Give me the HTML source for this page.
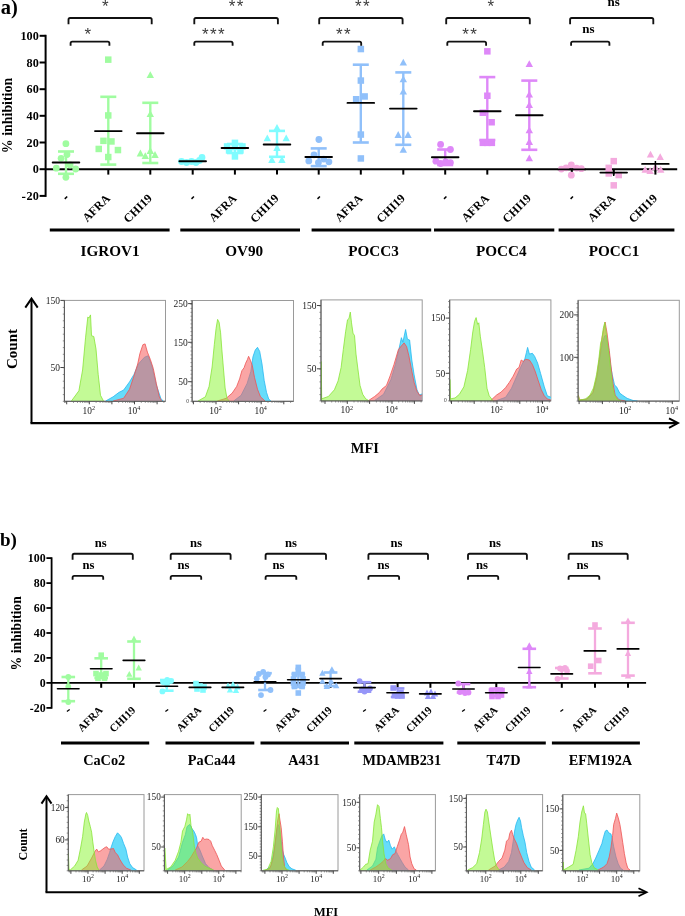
<!DOCTYPE html>
<html><head><meta charset="utf-8"><style>
html,body{margin:0;padding:0;background:#fff;}
body{width:685px;height:916px;overflow:hidden;font-family:"Liberation Serif",serif;}
svg{display:block;will-change:transform;filter:blur(0.35px);}
</style></head><body>
<svg width="685" height="916" viewBox="0 0 685 916"><text x="0.8" y="14" font-family="'Liberation Serif', serif" font-size="20.5" font-weight="bold" text-anchor="start" fill="#000">a)</text>
<line x1="45.6" y1="34.8" x2="45.6" y2="196.9" stroke="#000" stroke-width="2" stroke-linecap="butt"/>
<line x1="39.6" y1="35.8" x2="45.6" y2="35.8" stroke="#000" stroke-width="2" stroke-linecap="butt"/>
<text x="38.8" y="40" font-family="'Liberation Serif', serif" font-size="12.2" font-weight="bold" text-anchor="end" fill="#000">100</text>
<line x1="39.6" y1="62.5" x2="45.6" y2="62.5" stroke="#000" stroke-width="2" stroke-linecap="butt"/>
<text x="38.8" y="66.7" font-family="'Liberation Serif', serif" font-size="12.2" font-weight="bold" text-anchor="end" fill="#000">80</text>
<line x1="39.6" y1="89.2" x2="45.6" y2="89.2" stroke="#000" stroke-width="2" stroke-linecap="butt"/>
<text x="38.8" y="93.4" font-family="'Liberation Serif', serif" font-size="12.2" font-weight="bold" text-anchor="end" fill="#000">60</text>
<line x1="39.6" y1="115.8" x2="45.6" y2="115.8" stroke="#000" stroke-width="2" stroke-linecap="butt"/>
<text x="38.8" y="120" font-family="'Liberation Serif', serif" font-size="12.2" font-weight="bold" text-anchor="end" fill="#000">40</text>
<line x1="39.6" y1="142.5" x2="45.6" y2="142.5" stroke="#000" stroke-width="2" stroke-linecap="butt"/>
<text x="38.8" y="146.7" font-family="'Liberation Serif', serif" font-size="12.2" font-weight="bold" text-anchor="end" fill="#000">20</text>
<line x1="39.6" y1="169.2" x2="45.6" y2="169.2" stroke="#000" stroke-width="2" stroke-linecap="butt"/>
<text x="38.8" y="173.4" font-family="'Liberation Serif', serif" font-size="12.2" font-weight="bold" text-anchor="end" fill="#000">0</text>
<line x1="39.6" y1="195.9" x2="45.6" y2="195.9" stroke="#000" stroke-width="2" stroke-linecap="butt"/>
<text x="38.8" y="200.1" font-family="'Liberation Serif', serif" font-size="12.2" font-weight="bold" text-anchor="end" fill="#000">20</text>
<line x1="22" y1="197.4" x2="25.4" y2="197.4" stroke="#000" stroke-width="1.2" stroke-linecap="butt"/>
<text x="12.4" y="115.5" font-family="'Liberation Serif', serif" font-size="13.9" font-weight="bold" text-anchor="middle" fill="#000" transform="rotate(-90 12.4 115.5)">% inhibition</text>
<line x1="45.6" y1="169.2" x2="677.2" y2="169.2" stroke="#000" stroke-width="2" stroke-linecap="butt"/>
<line x1="66" y1="169.2" x2="66" y2="174.6" stroke="#000" stroke-width="2" stroke-linecap="butt"/>
<line x1="108.3" y1="169.2" x2="108.3" y2="174.6" stroke="#000" stroke-width="2" stroke-linecap="butt"/>
<line x1="150.3" y1="169.2" x2="150.3" y2="174.6" stroke="#000" stroke-width="2" stroke-linecap="butt"/>
<line x1="192.7" y1="169.2" x2="192.7" y2="174.6" stroke="#000" stroke-width="2" stroke-linecap="butt"/>
<line x1="234.9" y1="169.2" x2="234.9" y2="174.6" stroke="#000" stroke-width="2" stroke-linecap="butt"/>
<line x1="277" y1="169.2" x2="277" y2="174.6" stroke="#000" stroke-width="2" stroke-linecap="butt"/>
<line x1="318.7" y1="169.2" x2="318.7" y2="174.6" stroke="#000" stroke-width="2" stroke-linecap="butt"/>
<line x1="360.8" y1="169.2" x2="360.8" y2="174.6" stroke="#000" stroke-width="2" stroke-linecap="butt"/>
<line x1="403.3" y1="169.2" x2="403.3" y2="174.6" stroke="#000" stroke-width="2" stroke-linecap="butt"/>
<line x1="445.2" y1="169.2" x2="445.2" y2="174.6" stroke="#000" stroke-width="2" stroke-linecap="butt"/>
<line x1="487.3" y1="169.2" x2="487.3" y2="174.6" stroke="#000" stroke-width="2" stroke-linecap="butt"/>
<line x1="529.3" y1="169.2" x2="529.3" y2="174.6" stroke="#000" stroke-width="2" stroke-linecap="butt"/>
<line x1="571.8" y1="169.2" x2="571.8" y2="174.6" stroke="#000" stroke-width="2" stroke-linecap="butt"/>
<line x1="613.7" y1="169.2" x2="613.7" y2="174.6" stroke="#000" stroke-width="2" stroke-linecap="butt"/>
<line x1="655.4" y1="169.2" x2="655.4" y2="174.6" stroke="#000" stroke-width="2" stroke-linecap="butt"/>
<circle cx="65.9" cy="143.7" r="3.4" fill="#a0fca0"/>
<circle cx="61.1" cy="158.3" r="3.4" fill="#a0fca0"/>
<circle cx="67" cy="154.5" r="3.4" fill="#a0fca0"/>
<circle cx="56.3" cy="168.2" r="3.4" fill="#a0fca0"/>
<circle cx="75.7" cy="169" r="3.4" fill="#a0fca0"/>
<circle cx="70.1" cy="165" r="3.4" fill="#a0fca0"/>
<circle cx="65.9" cy="177.3" r="3.4" fill="#a0fca0"/>
<line x1="66" y1="151.5" x2="66" y2="173.8" stroke="#a0fca0" stroke-width="2.4" stroke-linecap="butt"/>
<line x1="58" y1="151.5" x2="74" y2="151.5" stroke="#a0fca0" stroke-width="2.6" stroke-linecap="butt"/>
<line x1="58" y1="173.8" x2="74" y2="173.8" stroke="#a0fca0" stroke-width="2.6" stroke-linecap="butt"/>
<line x1="52.7" y1="162.5" x2="79.3" y2="162.5" stroke="#000" stroke-width="1.9" stroke-linecap="round"/>
<rect x="105" y="56.4" width="6.5" height="6.5" fill="#a0fca0"/>
<rect x="105" y="112.2" width="6.5" height="6.5" fill="#a0fca0"/>
<rect x="100.2" y="137.6" width="6.5" height="6.5" fill="#a0fca0"/>
<rect x="108.2" y="138.2" width="6.5" height="6.5" fill="#a0fca0"/>
<rect x="95.5" y="145.7" width="6.5" height="6.5" fill="#a0fca0"/>
<rect x="114.7" y="146.8" width="6.5" height="6.5" fill="#a0fca0"/>
<rect x="105" y="153.8" width="6.5" height="6.5" fill="#a0fca0"/>
<line x1="108.3" y1="96.8" x2="108.3" y2="164.6" stroke="#a0fca0" stroke-width="2.4" stroke-linecap="butt"/>
<line x1="100.3" y1="96.8" x2="116.3" y2="96.8" stroke="#a0fca0" stroke-width="2.6" stroke-linecap="butt"/>
<line x1="100.3" y1="164.6" x2="116.3" y2="164.6" stroke="#a0fca0" stroke-width="2.6" stroke-linecap="butt"/>
<line x1="95" y1="131.1" x2="121.6" y2="131.1" stroke="#000" stroke-width="1.9" stroke-linecap="round"/>
<path d="M150.3 71.3L154 78.1L146.6 78.1Z" fill="#a0fca0"/>
<path d="M150.3 110.2L154 117L146.6 117Z" fill="#a0fca0"/>
<path d="M140.4 149.6L144.1 156.4L136.7 156.4Z" fill="#a0fca0"/>
<path d="M145.3 152.2L149 159L141.6 159Z" fill="#a0fca0"/>
<path d="M150.3 147.1L154 153.9L146.6 153.9Z" fill="#a0fca0"/>
<path d="M155 151.1L158.7 157.9L151.3 157.9Z" fill="#a0fca0"/>
<line x1="150.3" y1="102.8" x2="150.3" y2="163" stroke="#a0fca0" stroke-width="2.4" stroke-linecap="butt"/>
<line x1="142.3" y1="102.8" x2="158.3" y2="102.8" stroke="#a0fca0" stroke-width="2.6" stroke-linecap="butt"/>
<line x1="142.3" y1="163" x2="158.3" y2="163" stroke="#a0fca0" stroke-width="2.6" stroke-linecap="butt"/>
<line x1="137" y1="133.3" x2="163.6" y2="133.3" stroke="#000" stroke-width="1.9" stroke-linecap="round"/>
<circle cx="181.5" cy="161.5" r="3.4" fill="#80fcff"/>
<circle cx="186.5" cy="162.5" r="3.4" fill="#80fcff"/>
<circle cx="191.5" cy="161.5" r="3.4" fill="#80fcff"/>
<circle cx="196" cy="162.5" r="3.4" fill="#80fcff"/>
<circle cx="199.5" cy="160.5" r="3.4" fill="#80fcff"/>
<circle cx="202" cy="157.5" r="3.4" fill="#80fcff"/>
<line x1="179.4" y1="161.2" x2="206" y2="161.2" stroke="#000" stroke-width="1.9" stroke-linecap="round"/>
<rect x="231.7" y="139.6" width="6.5" height="6.5" fill="#80fcff"/>
<rect x="223.8" y="143.2" width="6.5" height="6.5" fill="#80fcff"/>
<rect x="239.2" y="143.2" width="6.5" height="6.5" fill="#80fcff"/>
<rect x="225.8" y="147.2" width="6.5" height="6.5" fill="#80fcff"/>
<rect x="237.2" y="147.2" width="6.5" height="6.5" fill="#80fcff"/>
<rect x="231.7" y="153.2" width="6.5" height="6.5" fill="#80fcff"/>
<rect x="231.7" y="143.8" width="6.5" height="6.5" fill="#80fcff"/>
<line x1="234.9" y1="144" x2="234.9" y2="153" stroke="#80fcff" stroke-width="2.4" stroke-linecap="butt"/>
<line x1="226.9" y1="144" x2="242.9" y2="144" stroke="#80fcff" stroke-width="2.6" stroke-linecap="butt"/>
<line x1="226.9" y1="153" x2="242.9" y2="153" stroke="#80fcff" stroke-width="2.6" stroke-linecap="butt"/>
<line x1="221.6" y1="148" x2="248.2" y2="148" stroke="#000" stroke-width="1.9" stroke-linecap="round"/>
<path d="M277 124L280.7 130.8L273.3 130.8Z" fill="#80fcff"/>
<path d="M267.3 134.5L271 141.3L263.6 141.3Z" fill="#80fcff"/>
<path d="M286.2 134.5L289.9 141.3L282.5 141.3Z" fill="#80fcff"/>
<path d="M271.9 156.1L275.6 162.9L268.2 162.9Z" fill="#80fcff"/>
<path d="M281.9 156.1L285.6 162.9L278.2 162.9Z" fill="#80fcff"/>
<path d="M277 144.1L280.7 150.9L273.3 150.9Z" fill="#80fcff"/>
<line x1="277" y1="130.9" x2="277" y2="156.8" stroke="#80fcff" stroke-width="2.4" stroke-linecap="butt"/>
<line x1="269" y1="130.9" x2="285" y2="130.9" stroke="#80fcff" stroke-width="2.6" stroke-linecap="butt"/>
<line x1="269" y1="156.8" x2="285" y2="156.8" stroke="#80fcff" stroke-width="2.6" stroke-linecap="butt"/>
<line x1="263.7" y1="144.5" x2="290.3" y2="144.5" stroke="#000" stroke-width="1.9" stroke-linecap="round"/>
<circle cx="318.9" cy="139.5" r="3.4" fill="#90c0fa"/>
<circle cx="314" cy="154.8" r="3.4" fill="#90c0fa"/>
<circle cx="308.8" cy="160.9" r="3.4" fill="#90c0fa"/>
<circle cx="318.4" cy="162.6" r="3.4" fill="#90c0fa"/>
<circle cx="323.7" cy="159.1" r="3.4" fill="#90c0fa"/>
<circle cx="328.9" cy="161.8" r="3.4" fill="#90c0fa"/>
<line x1="318.7" y1="148.4" x2="318.7" y2="166.1" stroke="#90c0fa" stroke-width="2.4" stroke-linecap="butt"/>
<line x1="310.7" y1="148.4" x2="326.7" y2="148.4" stroke="#90c0fa" stroke-width="2.6" stroke-linecap="butt"/>
<line x1="310.7" y1="166.1" x2="326.7" y2="166.1" stroke="#90c0fa" stroke-width="2.6" stroke-linecap="butt"/>
<line x1="305.4" y1="157" x2="332" y2="157" stroke="#000" stroke-width="1.9" stroke-linecap="round"/>
<rect x="357.6" y="45.8" width="6.5" height="6.5" fill="#90c0fa"/>
<rect x="357.6" y="77.3" width="6.5" height="6.5" fill="#90c0fa"/>
<rect x="352.9" y="96" width="6.5" height="6.5" fill="#90c0fa"/>
<rect x="361.4" y="93.2" width="6.5" height="6.5" fill="#90c0fa"/>
<rect x="357.6" y="131.3" width="6.5" height="6.5" fill="#90c0fa"/>
<rect x="357.6" y="155.2" width="6.5" height="6.5" fill="#90c0fa"/>
<line x1="360.8" y1="64.7" x2="360.8" y2="142.5" stroke="#90c0fa" stroke-width="2.4" stroke-linecap="butt"/>
<line x1="352.8" y1="64.7" x2="368.8" y2="64.7" stroke="#90c0fa" stroke-width="2.6" stroke-linecap="butt"/>
<line x1="352.8" y1="142.5" x2="368.8" y2="142.5" stroke="#90c0fa" stroke-width="2.6" stroke-linecap="butt"/>
<line x1="347.5" y1="102.9" x2="374.1" y2="102.9" stroke="#000" stroke-width="1.9" stroke-linecap="round"/>
<path d="M403.3 58.7L407 65.5L399.6 65.5Z" fill="#90c0fa"/>
<path d="M403.3 75.5L407 82.3L399.6 82.3Z" fill="#90c0fa"/>
<path d="M403.3 87.7L407 94.5L399.6 94.5Z" fill="#90c0fa"/>
<path d="M398.2 131.1L401.9 137.9L394.5 137.9Z" fill="#90c0fa"/>
<path d="M408 131.1L411.7 137.9L404.3 137.9Z" fill="#90c0fa"/>
<path d="M403.3 145.9L407 152.7L399.6 152.7Z" fill="#90c0fa"/>
<line x1="403.3" y1="72.4" x2="403.3" y2="144.8" stroke="#90c0fa" stroke-width="2.4" stroke-linecap="butt"/>
<line x1="395.3" y1="72.4" x2="411.3" y2="72.4" stroke="#90c0fa" stroke-width="2.6" stroke-linecap="butt"/>
<line x1="395.3" y1="144.8" x2="411.3" y2="144.8" stroke="#90c0fa" stroke-width="2.6" stroke-linecap="butt"/>
<line x1="390" y1="108.6" x2="416.6" y2="108.6" stroke="#000" stroke-width="1.9" stroke-linecap="round"/>
<circle cx="440.6" cy="144.4" r="3.4" fill="#de88f8"/>
<circle cx="450.4" cy="149.5" r="3.4" fill="#de88f8"/>
<circle cx="435.9" cy="161.2" r="3.4" fill="#de88f8"/>
<circle cx="440.6" cy="163.5" r="3.4" fill="#de88f8"/>
<circle cx="445.7" cy="161.9" r="3.4" fill="#de88f8"/>
<circle cx="450.4" cy="162.6" r="3.4" fill="#de88f8"/>
<line x1="445.2" y1="149.5" x2="445.2" y2="165" stroke="#de88f8" stroke-width="2.4" stroke-linecap="butt"/>
<line x1="437.2" y1="149.5" x2="453.2" y2="149.5" stroke="#de88f8" stroke-width="2.6" stroke-linecap="butt"/>
<line x1="437.2" y1="165" x2="453.2" y2="165" stroke="#de88f8" stroke-width="2.6" stroke-linecap="butt"/>
<line x1="431.9" y1="157.2" x2="458.5" y2="157.2" stroke="#000" stroke-width="1.9" stroke-linecap="round"/>
<rect x="484.1" y="48.1" width="6.5" height="6.5" fill="#de88f8"/>
<rect x="484.1" y="92.5" width="6.5" height="6.5" fill="#de88f8"/>
<rect x="479.6" y="109.5" width="6.5" height="6.5" fill="#de88f8"/>
<rect x="488.4" y="119" width="6.5" height="6.5" fill="#de88f8"/>
<rect x="479.6" y="139.6" width="6.5" height="6.5" fill="#de88f8"/>
<rect x="484.1" y="139.6" width="6.5" height="6.5" fill="#de88f8"/>
<rect x="488.6" y="139.6" width="6.5" height="6.5" fill="#de88f8"/>
<line x1="487.3" y1="77.1" x2="487.3" y2="140" stroke="#de88f8" stroke-width="2.4" stroke-linecap="butt"/>
<line x1="479.3" y1="77.1" x2="495.3" y2="77.1" stroke="#de88f8" stroke-width="2.6" stroke-linecap="butt"/>
<line x1="479.3" y1="140" x2="495.3" y2="140" stroke="#de88f8" stroke-width="2.6" stroke-linecap="butt"/>
<line x1="474" y1="111.2" x2="500.6" y2="111.2" stroke="#000" stroke-width="1.9" stroke-linecap="round"/>
<path d="M529.3 60.3L533 67.1L525.6 67.1Z" fill="#de88f8"/>
<path d="M529.3 90.7L533 97.5L525.6 97.5Z" fill="#de88f8"/>
<path d="M529.3 101.2L533 108L525.6 108Z" fill="#de88f8"/>
<path d="M529.3 126.5L533 133.3L525.6 133.3Z" fill="#de88f8"/>
<path d="M529.3 138.1L533 144.9L525.6 144.9Z" fill="#de88f8"/>
<path d="M529.3 154.5L533 161.3L525.6 161.3Z" fill="#de88f8"/>
<line x1="529.3" y1="80.6" x2="529.3" y2="149.8" stroke="#de88f8" stroke-width="2.4" stroke-linecap="butt"/>
<line x1="521.3" y1="80.6" x2="537.3" y2="80.6" stroke="#de88f8" stroke-width="2.6" stroke-linecap="butt"/>
<line x1="521.3" y1="149.8" x2="537.3" y2="149.8" stroke="#de88f8" stroke-width="2.6" stroke-linecap="butt"/>
<line x1="516" y1="115.2" x2="542.6" y2="115.2" stroke="#000" stroke-width="1.9" stroke-linecap="round"/>
<circle cx="561.4" cy="169.1" r="3.4" fill="#f4aade"/>
<circle cx="566.1" cy="167.8" r="3.4" fill="#f4aade"/>
<circle cx="571.3" cy="164.8" r="3.4" fill="#f4aade"/>
<circle cx="576.6" cy="168.1" r="3.4" fill="#f4aade"/>
<circle cx="581.3" cy="168.7" r="3.4" fill="#f4aade"/>
<circle cx="571.3" cy="175.2" r="3.4" fill="#f4aade"/>
<line x1="558.5" y1="169.4" x2="585.1" y2="169.4" stroke="#000" stroke-width="1.9" stroke-linecap="round"/>
<rect x="610.5" y="157.9" width="6.5" height="6.5" fill="#f4aade"/>
<rect x="605.5" y="164.6" width="6.5" height="6.5" fill="#f4aade"/>
<rect x="605.5" y="170.2" width="6.5" height="6.5" fill="#f4aade"/>
<rect x="615.5" y="171.8" width="6.5" height="6.5" fill="#f4aade"/>
<rect x="610.5" y="182.1" width="6.5" height="6.5" fill="#f4aade"/>
<line x1="600.4" y1="172.6" x2="627" y2="172.6" stroke="#000" stroke-width="1.9" stroke-linecap="round"/>
<path d="M650.5 150.7L654.2 157.5L646.8 157.5Z" fill="#f4aade"/>
<path d="M660.2 153.3L663.9 160.1L656.5 160.1Z" fill="#f4aade"/>
<path d="M645.2 166L648.9 172.8L641.5 172.8Z" fill="#f4aade"/>
<path d="M650.1 167.1L653.8 173.9L646.4 173.9Z" fill="#f4aade"/>
<path d="M655.4 163.4L659.1 170.2L651.7 170.2Z" fill="#f4aade"/>
<path d="M660.7 166L664.4 172.8L657 172.8Z" fill="#f4aade"/>
<line x1="642.1" y1="163.9" x2="668.7" y2="163.9" stroke="#000" stroke-width="1.9" stroke-linecap="round"/>
<line x1="613.7" y1="169.5" x2="613.7" y2="176" stroke="#000" stroke-width="1.5" stroke-linecap="butt"/>
<line x1="655.4" y1="161" x2="655.4" y2="172" stroke="#000" stroke-width="1.5" stroke-linecap="butt"/>
<path d="M68.5 24.3V19.6Q68.5 18 70.1 18H150.1Q151.7 18 151.7 19.6V24.3" fill="none" stroke="#111" stroke-width="1.85"/>
<path d="M70.6 45.8V43.2Q70.6 41.6 72.2 41.6H107.8Q109.4 41.6 109.4 43.2V45.8" fill="none" stroke="#111" stroke-width="1.85"/>
<text x="105.4" y="12.1" font-family="'Liberation Sans', sans-serif" font-size="17" font-weight="normal" text-anchor="middle" fill="#3a3a3a">*</text>
<text x="87.9" y="39.6" font-family="'Liberation Sans', sans-serif" font-size="17" font-weight="normal" text-anchor="middle" fill="#3a3a3a">*</text>
<path d="M194.3 24.3V19.6Q194.3 18 195.9 18H276.3Q277.9 18 277.9 19.6V24.3" fill="none" stroke="#111" stroke-width="1.85"/>
<path d="M194.3 45.8V43.2Q194.3 41.6 195.9 41.6H231Q232.6 41.6 232.6 43.2V45.8" fill="none" stroke="#111" stroke-width="1.85"/>
<text x="232" y="12.1" font-family="'Liberation Sans', sans-serif" font-size="17" font-weight="normal" text-anchor="middle" fill="#3a3a3a">*</text>
<text x="240" y="12.1" font-family="'Liberation Sans', sans-serif" font-size="17" font-weight="normal" text-anchor="middle" fill="#3a3a3a">*</text>
<text x="205.2" y="39.6" font-family="'Liberation Sans', sans-serif" font-size="17" font-weight="normal" text-anchor="middle" fill="#3a3a3a">*</text>
<text x="213.2" y="39.6" font-family="'Liberation Sans', sans-serif" font-size="17" font-weight="normal" text-anchor="middle" fill="#3a3a3a">*</text>
<text x="221.2" y="39.6" font-family="'Liberation Sans', sans-serif" font-size="17" font-weight="normal" text-anchor="middle" fill="#3a3a3a">*</text>
<path d="M319.2 24.3V19.6Q319.2 18 320.8 18H401Q402.6 18 402.6 19.6V24.3" fill="none" stroke="#111" stroke-width="1.85"/>
<path d="M322.7 45.8V43.2Q322.7 41.6 324.3 41.6H359.6Q361.2 41.6 361.2 43.2V45.8" fill="none" stroke="#111" stroke-width="1.85"/>
<text x="358.4" y="12.1" font-family="'Liberation Sans', sans-serif" font-size="17" font-weight="normal" text-anchor="middle" fill="#3a3a3a">*</text>
<text x="366.4" y="12.1" font-family="'Liberation Sans', sans-serif" font-size="17" font-weight="normal" text-anchor="middle" fill="#3a3a3a">*</text>
<text x="339.3" y="39.6" font-family="'Liberation Sans', sans-serif" font-size="17" font-weight="normal" text-anchor="middle" fill="#3a3a3a">*</text>
<text x="347.3" y="39.6" font-family="'Liberation Sans', sans-serif" font-size="17" font-weight="normal" text-anchor="middle" fill="#3a3a3a">*</text>
<path d="M446.2 24.3V19.6Q446.2 18 447.8 18H528.2Q529.8 18 529.8 19.6V24.3" fill="none" stroke="#111" stroke-width="1.85"/>
<path d="M447.3 45.8V43.2Q447.3 41.6 448.9 41.6H484.5Q486.1 41.6 486.1 43.2V45.8" fill="none" stroke="#111" stroke-width="1.85"/>
<text x="490.8" y="12.1" font-family="'Liberation Sans', sans-serif" font-size="17" font-weight="normal" text-anchor="middle" fill="#3a3a3a">*</text>
<text x="465.5" y="39.6" font-family="'Liberation Sans', sans-serif" font-size="17" font-weight="normal" text-anchor="middle" fill="#3a3a3a">*</text>
<text x="473.5" y="39.6" font-family="'Liberation Sans', sans-serif" font-size="17" font-weight="normal" text-anchor="middle" fill="#3a3a3a">*</text>
<path d="M570.1 24.3V19.6Q570.1 18 571.7 18H651.7Q653.3 18 653.3 19.6V24.3" fill="none" stroke="#111" stroke-width="1.85"/>
<path d="M571.1 45.8V43.2Q571.1 41.6 572.7 41.6H607.8Q609.4 41.6 609.4 43.2V45.8" fill="none" stroke="#111" stroke-width="1.85"/>
<text x="613.7" y="6.2" font-family="'Liberation Serif', serif" font-size="13" font-weight="bold" text-anchor="middle" fill="#000">ns</text>
<text x="588.5" y="33.2" font-family="'Liberation Serif', serif" font-size="13" font-weight="bold" text-anchor="middle" fill="#000">ns</text>
<line x1="64.8" y1="198.9" x2="67.2" y2="196.5" stroke="#000" stroke-width="1.5" stroke-linecap="butt"/>
<text x="110.8" y="199" font-family="'Liberation Serif', serif" font-size="12" font-weight="bold" text-anchor="end" fill="#000" transform="rotate(-45 110.8 199)">AFRA</text>
<text x="152.8" y="199" font-family="'Liberation Serif', serif" font-size="12" font-weight="bold" text-anchor="end" fill="#000" transform="rotate(-45 152.8 199)">CHI19</text>
<line x1="191.5" y1="198.9" x2="193.9" y2="196.5" stroke="#000" stroke-width="1.5" stroke-linecap="butt"/>
<text x="237.4" y="199" font-family="'Liberation Serif', serif" font-size="12" font-weight="bold" text-anchor="end" fill="#000" transform="rotate(-45 237.4 199)">AFRA</text>
<text x="279.5" y="199" font-family="'Liberation Serif', serif" font-size="12" font-weight="bold" text-anchor="end" fill="#000" transform="rotate(-45 279.5 199)">CHI19</text>
<line x1="317.5" y1="198.9" x2="319.9" y2="196.5" stroke="#000" stroke-width="1.5" stroke-linecap="butt"/>
<text x="363.3" y="199" font-family="'Liberation Serif', serif" font-size="12" font-weight="bold" text-anchor="end" fill="#000" transform="rotate(-45 363.3 199)">AFRA</text>
<text x="405.8" y="199" font-family="'Liberation Serif', serif" font-size="12" font-weight="bold" text-anchor="end" fill="#000" transform="rotate(-45 405.8 199)">CHI19</text>
<line x1="444" y1="198.9" x2="446.4" y2="196.5" stroke="#000" stroke-width="1.5" stroke-linecap="butt"/>
<text x="489.8" y="199" font-family="'Liberation Serif', serif" font-size="12" font-weight="bold" text-anchor="end" fill="#000" transform="rotate(-45 489.8 199)">AFRA</text>
<text x="531.8" y="199" font-family="'Liberation Serif', serif" font-size="12" font-weight="bold" text-anchor="end" fill="#000" transform="rotate(-45 531.8 199)">CHI19</text>
<line x1="570.6" y1="198.9" x2="573" y2="196.5" stroke="#000" stroke-width="1.5" stroke-linecap="butt"/>
<text x="616.2" y="199" font-family="'Liberation Serif', serif" font-size="12" font-weight="bold" text-anchor="end" fill="#000" transform="rotate(-45 616.2 199)">AFRA</text>
<text x="657.9" y="199" font-family="'Liberation Serif', serif" font-size="12" font-weight="bold" text-anchor="end" fill="#000" transform="rotate(-45 657.9 199)">CHI19</text>
<line x1="49.8" y1="230.1" x2="169.6" y2="230.1" stroke="#000" stroke-width="3" stroke-linecap="butt"/>
<line x1="180.3" y1="230.1" x2="300" y2="230.1" stroke="#000" stroke-width="3" stroke-linecap="butt"/>
<line x1="311.6" y1="230.1" x2="431.2" y2="230.1" stroke="#000" stroke-width="3" stroke-linecap="butt"/>
<line x1="434" y1="230.1" x2="554.3" y2="230.1" stroke="#000" stroke-width="3" stroke-linecap="butt"/>
<line x1="558.6" y1="230.1" x2="674.4" y2="230.1" stroke="#000" stroke-width="3" stroke-linecap="butt"/>
<text x="110.1" y="256.3" font-family="'Liberation Serif', serif" font-size="15.2" font-weight="bold" text-anchor="middle" fill="#000">IGROV1</text>
<text x="244.2" y="256.3" font-family="'Liberation Serif', serif" font-size="15.2" font-weight="bold" text-anchor="middle" fill="#000">OV90</text>
<text x="373.6" y="256.3" font-family="'Liberation Serif', serif" font-size="15.2" font-weight="bold" text-anchor="middle" fill="#000">POCC3</text>
<text x="501.2" y="256.3" font-family="'Liberation Serif', serif" font-size="15.2" font-weight="bold" text-anchor="middle" fill="#000">POCC4</text>
<text x="614.1" y="256.3" font-family="'Liberation Serif', serif" font-size="15.2" font-weight="bold" text-anchor="middle" fill="#000">POCC1</text>
<text x="0" y="545.8" font-family="'Liberation Serif', serif" font-size="19" font-weight="bold" text-anchor="start" fill="#000">b)</text>
<line x1="51.6" y1="557.3" x2="51.6" y2="708.7" stroke="#000" stroke-width="1.8" stroke-linecap="butt"/>
<line x1="46.4" y1="558.1" x2="51.6" y2="558.1" stroke="#000" stroke-width="1.8" stroke-linecap="butt"/>
<text x="45.6" y="562.2" font-family="'Liberation Serif', serif" font-size="11.9" font-weight="bold" text-anchor="end" fill="#000">100</text>
<line x1="46.4" y1="583.1" x2="51.6" y2="583.1" stroke="#000" stroke-width="1.8" stroke-linecap="butt"/>
<text x="45.6" y="587.2" font-family="'Liberation Serif', serif" font-size="11.9" font-weight="bold" text-anchor="end" fill="#000">80</text>
<line x1="46.4" y1="608" x2="51.6" y2="608" stroke="#000" stroke-width="1.8" stroke-linecap="butt"/>
<text x="45.6" y="612.1" font-family="'Liberation Serif', serif" font-size="11.9" font-weight="bold" text-anchor="end" fill="#000">60</text>
<line x1="46.4" y1="633" x2="51.6" y2="633" stroke="#000" stroke-width="1.8" stroke-linecap="butt"/>
<text x="45.6" y="637.1" font-family="'Liberation Serif', serif" font-size="11.9" font-weight="bold" text-anchor="end" fill="#000">40</text>
<line x1="46.4" y1="657.9" x2="51.6" y2="657.9" stroke="#000" stroke-width="1.8" stroke-linecap="butt"/>
<text x="45.6" y="662" font-family="'Liberation Serif', serif" font-size="11.9" font-weight="bold" text-anchor="end" fill="#000">20</text>
<line x1="46.4" y1="682.9" x2="51.6" y2="682.9" stroke="#000" stroke-width="1.8" stroke-linecap="butt"/>
<text x="45.6" y="687" font-family="'Liberation Serif', serif" font-size="11.9" font-weight="bold" text-anchor="end" fill="#000">0</text>
<line x1="46.4" y1="707.9" x2="51.6" y2="707.9" stroke="#000" stroke-width="1.8" stroke-linecap="butt"/>
<text x="45.6" y="712" font-family="'Liberation Serif', serif" font-size="11.9" font-weight="bold" text-anchor="end" fill="#000">20</text>
<line x1="30.2" y1="709.4" x2="33.2" y2="709.4" stroke="#000" stroke-width="1.2" stroke-linecap="butt"/>
<text x="20.6" y="633.3" font-family="'Liberation Serif', serif" font-size="13.7" font-weight="bold" text-anchor="middle" fill="#000" transform="rotate(-90 20.6 633.3)">% inhibition</text>
<line x1="51.6" y1="682.9" x2="646.1" y2="682.9" stroke="#000" stroke-width="1.8" stroke-linecap="butt"/>
<line x1="68.3" y1="682.9" x2="68.3" y2="687.8" stroke="#000" stroke-width="2" stroke-linecap="butt"/>
<line x1="101.2" y1="682.9" x2="101.2" y2="687.8" stroke="#000" stroke-width="2" stroke-linecap="butt"/>
<line x1="134" y1="682.9" x2="134" y2="687.8" stroke="#000" stroke-width="2" stroke-linecap="butt"/>
<line x1="166.8" y1="682.9" x2="166.8" y2="687.8" stroke="#000" stroke-width="2" stroke-linecap="butt"/>
<line x1="200" y1="682.9" x2="200" y2="687.8" stroke="#000" stroke-width="2" stroke-linecap="butt"/>
<line x1="232.8" y1="682.9" x2="232.8" y2="687.8" stroke="#000" stroke-width="2" stroke-linecap="butt"/>
<line x1="265" y1="682.9" x2="265" y2="687.8" stroke="#000" stroke-width="2" stroke-linecap="butt"/>
<line x1="298.3" y1="682.9" x2="298.3" y2="687.8" stroke="#000" stroke-width="2" stroke-linecap="butt"/>
<line x1="330.6" y1="682.9" x2="330.6" y2="687.8" stroke="#000" stroke-width="2" stroke-linecap="butt"/>
<line x1="364.5" y1="682.9" x2="364.5" y2="687.8" stroke="#000" stroke-width="2" stroke-linecap="butt"/>
<line x1="397.6" y1="682.9" x2="397.6" y2="687.8" stroke="#000" stroke-width="2" stroke-linecap="butt"/>
<line x1="430.4" y1="682.9" x2="430.4" y2="687.8" stroke="#000" stroke-width="2" stroke-linecap="butt"/>
<line x1="463.5" y1="682.9" x2="463.5" y2="687.8" stroke="#000" stroke-width="2" stroke-linecap="butt"/>
<line x1="496.3" y1="682.9" x2="496.3" y2="687.8" stroke="#000" stroke-width="2" stroke-linecap="butt"/>
<line x1="529.3" y1="682.9" x2="529.3" y2="687.8" stroke="#000" stroke-width="2" stroke-linecap="butt"/>
<line x1="561.8" y1="682.9" x2="561.8" y2="687.8" stroke="#000" stroke-width="2" stroke-linecap="butt"/>
<line x1="595" y1="682.9" x2="595" y2="687.8" stroke="#000" stroke-width="2" stroke-linecap="butt"/>
<line x1="628" y1="682.9" x2="628" y2="687.8" stroke="#000" stroke-width="2" stroke-linecap="butt"/>
<circle cx="68.3" cy="677" r="2.9" fill="#a0fca0"/>
<circle cx="68.3" cy="686.7" r="2.9" fill="#a0fca0"/>
<circle cx="68.3" cy="702" r="2.9" fill="#a0fca0"/>
<line x1="68.3" y1="677" x2="68.3" y2="701.2" stroke="#a0fca0" stroke-width="2.3" stroke-linecap="butt"/>
<line x1="61.5" y1="677" x2="75.1" y2="677" stroke="#a0fca0" stroke-width="2.6" stroke-linecap="butt"/>
<line x1="61.5" y1="701.2" x2="75.1" y2="701.2" stroke="#a0fca0" stroke-width="2.6" stroke-linecap="butt"/>
<line x1="57.5" y1="688.8" x2="79" y2="688.8" stroke="#000" stroke-width="1.6" stroke-linecap="round"/>
<rect x="98.4" y="652.4" width="5.6" height="5.6" fill="#a0fca0"/>
<rect x="93.2" y="670.8" width="5.6" height="5.6" fill="#a0fca0"/>
<rect x="98.4" y="672.2" width="5.6" height="5.6" fill="#a0fca0"/>
<rect x="103.2" y="670.8" width="5.6" height="5.6" fill="#a0fca0"/>
<rect x="95.2" y="675.5" width="5.6" height="5.6" fill="#a0fca0"/>
<rect x="101.7" y="675.5" width="5.6" height="5.6" fill="#a0fca0"/>
<line x1="101.2" y1="658.3" x2="101.2" y2="678" stroke="#a0fca0" stroke-width="2.3" stroke-linecap="butt"/>
<line x1="94.4" y1="658.3" x2="108" y2="658.3" stroke="#a0fca0" stroke-width="2.6" stroke-linecap="butt"/>
<line x1="94.4" y1="678" x2="108" y2="678" stroke="#a0fca0" stroke-width="2.6" stroke-linecap="butt"/>
<line x1="90.5" y1="668.8" x2="112" y2="668.8" stroke="#000" stroke-width="1.6" stroke-linecap="round"/>
<path d="M134 635.5L137.2 641.4L130.8 641.4Z" fill="#a0fca0"/>
<path d="M129.3 670.9L132.5 676.8L126.1 676.8Z" fill="#a0fca0"/>
<path d="M138.7 664.6L141.9 670.5L135.5 670.5Z" fill="#a0fca0"/>
<line x1="134" y1="641.5" x2="134" y2="678.8" stroke="#a0fca0" stroke-width="2.3" stroke-linecap="butt"/>
<line x1="127.2" y1="641.5" x2="140.8" y2="641.5" stroke="#a0fca0" stroke-width="2.6" stroke-linecap="butt"/>
<line x1="127.2" y1="678.8" x2="140.8" y2="678.8" stroke="#a0fca0" stroke-width="2.6" stroke-linecap="butt"/>
<line x1="123.2" y1="660.4" x2="144.8" y2="660.4" stroke="#000" stroke-width="1.6" stroke-linecap="round"/>
<circle cx="167.2" cy="680" r="2.9" fill="#80fcff"/>
<circle cx="163" cy="682" r="2.9" fill="#80fcff"/>
<circle cx="171" cy="681" r="2.9" fill="#80fcff"/>
<circle cx="162.4" cy="691.4" r="2.9" fill="#80fcff"/>
<circle cx="167" cy="684" r="2.9" fill="#80fcff"/>
<line x1="166.8" y1="680" x2="166.8" y2="690.7" stroke="#80fcff" stroke-width="2.3" stroke-linecap="butt"/>
<line x1="160" y1="680" x2="173.6" y2="680" stroke="#80fcff" stroke-width="2.6" stroke-linecap="butt"/>
<line x1="160" y1="690.7" x2="173.6" y2="690.7" stroke="#80fcff" stroke-width="2.6" stroke-linecap="butt"/>
<line x1="156.1" y1="686.3" x2="177.6" y2="686.3" stroke="#000" stroke-width="1.6" stroke-linecap="round"/>
<rect x="193.2" y="680.7" width="5.6" height="5.6" fill="#80fcff"/>
<rect x="197.2" y="683.2" width="5.6" height="5.6" fill="#80fcff"/>
<rect x="201.2" y="684.2" width="5.6" height="5.6" fill="#80fcff"/>
<rect x="194.2" y="686.2" width="5.6" height="5.6" fill="#80fcff"/>
<rect x="200.2" y="687.2" width="5.6" height="5.6" fill="#80fcff"/>
<line x1="189.2" y1="687.4" x2="210.8" y2="687.4" stroke="#000" stroke-width="1.6" stroke-linecap="round"/>
<path d="M228 682.6L231.2 688.5L224.8 688.5Z" fill="#80fcff"/>
<path d="M233 681.1L236.2 687L229.8 687Z" fill="#80fcff"/>
<path d="M237.5 683.6L240.7 689.5L234.3 689.5Z" fill="#80fcff"/>
<path d="M230 686.6L233.2 692.5L226.8 692.5Z" fill="#80fcff"/>
<path d="M236 687.1L239.2 693L232.8 693Z" fill="#80fcff"/>
<line x1="222.1" y1="687.4" x2="243.6" y2="687.4" stroke="#000" stroke-width="1.6" stroke-linecap="round"/>
<circle cx="256.7" cy="678.4" r="2.9" fill="#90c0fa"/>
<circle cx="258.9" cy="674" r="2.9" fill="#90c0fa"/>
<circle cx="263.2" cy="671.8" r="2.9" fill="#90c0fa"/>
<circle cx="265.4" cy="676.9" r="2.9" fill="#90c0fa"/>
<circle cx="268" cy="674.5" r="2.9" fill="#90c0fa"/>
<circle cx="270.5" cy="690" r="2.9" fill="#90c0fa"/>
<circle cx="261" cy="695.1" r="2.9" fill="#90c0fa"/>
<line x1="265" y1="673.2" x2="265" y2="690" stroke="#90c0fa" stroke-width="2.3" stroke-linecap="butt"/>
<line x1="258.2" y1="673.2" x2="271.8" y2="673.2" stroke="#90c0fa" stroke-width="2.6" stroke-linecap="butt"/>
<line x1="258.2" y1="690" x2="271.8" y2="690" stroke="#90c0fa" stroke-width="2.6" stroke-linecap="butt"/>
<line x1="254.2" y1="681.7" x2="275.8" y2="681.7" stroke="#000" stroke-width="1.6" stroke-linecap="round"/>
<rect x="295.5" y="664.6" width="5.6" height="5.6" fill="#90c0fa"/>
<rect x="295.5" y="667.7" width="5.6" height="5.6" fill="#90c0fa"/>
<rect x="291.7" y="671.7" width="5.6" height="5.6" fill="#90c0fa"/>
<rect x="299.2" y="671.7" width="5.6" height="5.6" fill="#90c0fa"/>
<rect x="290.7" y="676.2" width="5.6" height="5.6" fill="#90c0fa"/>
<rect x="300.2" y="676.2" width="5.6" height="5.6" fill="#90c0fa"/>
<rect x="290.7" y="680.2" width="5.6" height="5.6" fill="#90c0fa"/>
<rect x="300.2" y="680.2" width="5.6" height="5.6" fill="#90c0fa"/>
<rect x="291.7" y="683.7" width="5.6" height="5.6" fill="#90c0fa"/>
<rect x="299.2" y="683.7" width="5.6" height="5.6" fill="#90c0fa"/>
<rect x="295.5" y="690.2" width="5.6" height="5.6" fill="#90c0fa"/>
<line x1="298.3" y1="674" x2="298.3" y2="687" stroke="#90c0fa" stroke-width="2.3" stroke-linecap="butt"/>
<line x1="291.5" y1="674" x2="305.1" y2="674" stroke="#90c0fa" stroke-width="2.6" stroke-linecap="butt"/>
<line x1="291.5" y1="687" x2="305.1" y2="687" stroke="#90c0fa" stroke-width="2.6" stroke-linecap="butt"/>
<line x1="287.6" y1="679.8" x2="309.1" y2="679.8" stroke="#000" stroke-width="1.6" stroke-linecap="round"/>
<path d="M322.4 669.8L325.6 675.7L319.2 675.7Z" fill="#90c0fa"/>
<path d="M331.9 666.2L335.1 672.1L328.7 672.1Z" fill="#90c0fa"/>
<path d="M322.4 677.9L325.6 683.8L319.2 683.8Z" fill="#90c0fa"/>
<path d="M326.8 683L330 688.9L323.6 688.9Z" fill="#90c0fa"/>
<path d="M336.2 682.3L339.4 688.2L333 688.2Z" fill="#90c0fa"/>
<path d="M331.1 677.9L334.3 683.8L327.9 683.8Z" fill="#90c0fa"/>
<line x1="330.6" y1="672.5" x2="330.6" y2="686" stroke="#90c0fa" stroke-width="2.3" stroke-linecap="butt"/>
<line x1="323.8" y1="672.5" x2="337.4" y2="672.5" stroke="#90c0fa" stroke-width="2.6" stroke-linecap="butt"/>
<line x1="323.8" y1="686" x2="337.4" y2="686" stroke="#90c0fa" stroke-width="2.6" stroke-linecap="butt"/>
<line x1="319.9" y1="678.6" x2="341.4" y2="678.6" stroke="#000" stroke-width="1.6" stroke-linecap="round"/>
<circle cx="359.6" cy="681.1" r="2.9" fill="#9696f8"/>
<circle cx="362" cy="689.5" r="2.9" fill="#9696f8"/>
<circle cx="367" cy="690" r="2.9" fill="#9696f8"/>
<circle cx="370" cy="688.5" r="2.9" fill="#9696f8"/>
<circle cx="364.5" cy="691.5" r="2.9" fill="#9696f8"/>
<line x1="364.5" y1="682.2" x2="364.5" y2="691.7" stroke="#9696f8" stroke-width="2.3" stroke-linecap="butt"/>
<line x1="357.7" y1="682.2" x2="371.3" y2="682.2" stroke="#9696f8" stroke-width="2.6" stroke-linecap="butt"/>
<line x1="357.7" y1="691.7" x2="371.3" y2="691.7" stroke="#9696f8" stroke-width="2.6" stroke-linecap="butt"/>
<line x1="353.8" y1="687.6" x2="375.2" y2="687.6" stroke="#000" stroke-width="1.6" stroke-linecap="round"/>
<rect x="390.4" y="685.2" width="5.6" height="5.6" fill="#9696f8"/>
<rect x="394.8" y="693.2" width="5.6" height="5.6" fill="#9696f8"/>
<rect x="399.2" y="693.2" width="5.6" height="5.6" fill="#9696f8"/>
<rect x="391.7" y="692.7" width="5.6" height="5.6" fill="#9696f8"/>
<rect x="398.2" y="689.7" width="5.6" height="5.6" fill="#9696f8"/>
<line x1="397.6" y1="688.4" x2="397.6" y2="697" stroke="#9696f8" stroke-width="2.3" stroke-linecap="butt"/>
<line x1="390.8" y1="688.4" x2="404.4" y2="688.4" stroke="#9696f8" stroke-width="2.6" stroke-linecap="butt"/>
<line x1="390.8" y1="697" x2="404.4" y2="697" stroke="#9696f8" stroke-width="2.6" stroke-linecap="butt"/>
<line x1="386.9" y1="692.7" x2="408.4" y2="692.7" stroke="#000" stroke-width="1.6" stroke-linecap="round"/>
<path d="M427 689.6L430.2 695.5L423.8 695.5Z" fill="#9696f8"/>
<path d="M431 688.6L434.2 694.5L427.8 694.5Z" fill="#9696f8"/>
<path d="M435 690.6L438.2 696.5L431.8 696.5Z" fill="#9696f8"/>
<path d="M428 693.1L431.2 699L424.8 699Z" fill="#9696f8"/>
<path d="M433 693.1L436.2 699L429.8 699Z" fill="#9696f8"/>
<line x1="419.6" y1="693.9" x2="441.1" y2="693.9" stroke="#000" stroke-width="1.6" stroke-linecap="round"/>
<circle cx="458.3" cy="683.5" r="2.9" fill="#de88f8"/>
<circle cx="460" cy="692" r="2.9" fill="#de88f8"/>
<circle cx="465" cy="693" r="2.9" fill="#de88f8"/>
<circle cx="468.5" cy="692.5" r="2.9" fill="#de88f8"/>
<circle cx="463.5" cy="691" r="2.9" fill="#de88f8"/>
<line x1="463.5" y1="684.1" x2="463.5" y2="692.5" stroke="#de88f8" stroke-width="2.3" stroke-linecap="butt"/>
<line x1="456.7" y1="684.1" x2="470.3" y2="684.1" stroke="#de88f8" stroke-width="2.6" stroke-linecap="butt"/>
<line x1="456.7" y1="692.5" x2="470.3" y2="692.5" stroke="#de88f8" stroke-width="2.6" stroke-linecap="butt"/>
<line x1="452.8" y1="689" x2="474.2" y2="689" stroke="#000" stroke-width="1.6" stroke-linecap="round"/>
<rect x="488.7" y="688.2" width="5.6" height="5.6" fill="#de88f8"/>
<rect x="494.2" y="687.2" width="5.6" height="5.6" fill="#de88f8"/>
<rect x="499.2" y="687.7" width="5.6" height="5.6" fill="#de88f8"/>
<rect x="489.2" y="693.7" width="5.6" height="5.6" fill="#de88f8"/>
<rect x="495.2" y="693.7" width="5.6" height="5.6" fill="#de88f8"/>
<rect x="498.7" y="692.2" width="5.6" height="5.6" fill="#de88f8"/>
<line x1="496.3" y1="688.6" x2="496.3" y2="696" stroke="#de88f8" stroke-width="2.3" stroke-linecap="butt"/>
<line x1="489.5" y1="688.6" x2="503.1" y2="688.6" stroke="#de88f8" stroke-width="2.6" stroke-linecap="butt"/>
<line x1="489.5" y1="696" x2="503.1" y2="696" stroke="#de88f8" stroke-width="2.6" stroke-linecap="butt"/>
<line x1="485.6" y1="692.7" x2="507.1" y2="692.7" stroke="#000" stroke-width="1.6" stroke-linecap="round"/>
<path d="M529.3 642.3L532.5 648.2L526.1 648.2Z" fill="#de88f8"/>
<path d="M529.3 668L532.5 673.9L526.1 673.9Z" fill="#de88f8"/>
<path d="M529.3 682.6L532.5 688.5L526.1 688.5Z" fill="#de88f8"/>
<line x1="529.3" y1="648.8" x2="529.3" y2="687.2" stroke="#de88f8" stroke-width="2.3" stroke-linecap="butt"/>
<line x1="522.5" y1="648.8" x2="536.1" y2="648.8" stroke="#de88f8" stroke-width="2.6" stroke-linecap="butt"/>
<line x1="522.5" y1="687.2" x2="536.1" y2="687.2" stroke="#de88f8" stroke-width="2.6" stroke-linecap="butt"/>
<line x1="518.5" y1="667.5" x2="540" y2="667.5" stroke="#000" stroke-width="1.6" stroke-linecap="round"/>
<circle cx="557.5" cy="678.8" r="2.9" fill="#f4aade"/>
<circle cx="560" cy="668.5" r="2.9" fill="#f4aade"/>
<circle cx="565" cy="668" r="2.9" fill="#f4aade"/>
<circle cx="567" cy="671" r="2.9" fill="#f4aade"/>
<circle cx="562" cy="669" r="2.9" fill="#f4aade"/>
<line x1="561.8" y1="668" x2="561.8" y2="678.5" stroke="#f4aade" stroke-width="2.3" stroke-linecap="butt"/>
<line x1="555" y1="668" x2="568.6" y2="668" stroke="#f4aade" stroke-width="2.6" stroke-linecap="butt"/>
<line x1="555" y1="678.5" x2="568.6" y2="678.5" stroke="#f4aade" stroke-width="2.6" stroke-linecap="butt"/>
<line x1="551" y1="673.9" x2="572.5" y2="673.9" stroke="#000" stroke-width="1.6" stroke-linecap="round"/>
<rect x="592.2" y="622.2" width="5.6" height="5.6" fill="#f4aade"/>
<rect x="595.9" y="657.7" width="5.6" height="5.6" fill="#f4aade"/>
<rect x="587.9" y="663.4" width="5.6" height="5.6" fill="#f4aade"/>
<line x1="595" y1="628.5" x2="595" y2="673.3" stroke="#f4aade" stroke-width="2.3" stroke-linecap="butt"/>
<line x1="588.2" y1="628.5" x2="601.8" y2="628.5" stroke="#f4aade" stroke-width="2.6" stroke-linecap="butt"/>
<line x1="588.2" y1="673.3" x2="601.8" y2="673.3" stroke="#f4aade" stroke-width="2.6" stroke-linecap="butt"/>
<line x1="584.2" y1="650.9" x2="605.8" y2="650.9" stroke="#000" stroke-width="1.6" stroke-linecap="round"/>
<path d="M628 617.4L631.2 623.3L624.8 623.3Z" fill="#f4aade"/>
<path d="M628 650L631.2 655.9L624.8 655.9Z" fill="#f4aade"/>
<path d="M628 672.6L631.2 678.5L624.8 678.5Z" fill="#f4aade"/>
<line x1="628" y1="622.8" x2="628" y2="675.6" stroke="#f4aade" stroke-width="2.3" stroke-linecap="butt"/>
<line x1="621.2" y1="622.8" x2="634.8" y2="622.8" stroke="#f4aade" stroke-width="2.6" stroke-linecap="butt"/>
<line x1="621.2" y1="675.6" x2="634.8" y2="675.6" stroke="#f4aade" stroke-width="2.6" stroke-linecap="butt"/>
<line x1="617.2" y1="648.9" x2="638.8" y2="648.9" stroke="#000" stroke-width="1.6" stroke-linecap="round"/>
<path d="M72.6 559.8V555.3Q72.6 553.7 74.2 553.7H131.2Q132.8 553.7 132.8 555.3V559.8" fill="none" stroke="#111" stroke-width="1.85"/>
<path d="M72.6 579.7V577.4Q72.6 575.8 74.2 575.8H101.6Q103.2 575.8 103.2 577.4V579.7" fill="none" stroke="#111" stroke-width="1.85"/>
<text x="100.7" y="547.2" font-family="'Liberation Serif', serif" font-size="12.7" font-weight="bold" text-anchor="middle" fill="#000">ns</text>
<text x="88.4" y="569" font-family="'Liberation Serif', serif" font-size="12.7" font-weight="bold" text-anchor="middle" fill="#000">ns</text>
<path d="M170.7 559.8V555.3Q170.7 553.7 172.3 553.7H229Q230.6 553.7 230.6 555.3V559.8" fill="none" stroke="#111" stroke-width="1.85"/>
<path d="M170.7 579.7V577.4Q170.7 575.8 172.3 575.8H199.6Q201.2 575.8 201.2 577.4V579.7" fill="none" stroke="#111" stroke-width="1.85"/>
<text x="196" y="547.2" font-family="'Liberation Serif', serif" font-size="12.7" font-weight="bold" text-anchor="middle" fill="#000">ns</text>
<text x="183.4" y="569" font-family="'Liberation Serif', serif" font-size="12.7" font-weight="bold" text-anchor="middle" fill="#000">ns</text>
<path d="M265.6 559.8V555.3Q265.6 553.7 267.2 553.7H324.4Q326 553.7 326 555.3V559.8" fill="none" stroke="#111" stroke-width="1.85"/>
<path d="M265.6 579.7V577.4Q265.6 575.8 267.2 575.8H294.7Q296.3 575.8 296.3 577.4V579.7" fill="none" stroke="#111" stroke-width="1.85"/>
<text x="291" y="547.2" font-family="'Liberation Serif', serif" font-size="12.7" font-weight="bold" text-anchor="middle" fill="#000">ns</text>
<text x="278.5" y="569" font-family="'Liberation Serif', serif" font-size="12.7" font-weight="bold" text-anchor="middle" fill="#000">ns</text>
<path d="M368.4 559.8V555.3Q368.4 553.7 370 553.7H426.4Q428 553.7 428 555.3V559.8" fill="none" stroke="#111" stroke-width="1.85"/>
<path d="M368.4 579.7V577.4Q368.4 575.8 370 575.8H397.5Q399.1 575.8 399.1 577.4V579.7" fill="none" stroke="#111" stroke-width="1.85"/>
<text x="396.5" y="547.2" font-family="'Liberation Serif', serif" font-size="12.7" font-weight="bold" text-anchor="middle" fill="#000">ns</text>
<text x="383.4" y="569" font-family="'Liberation Serif', serif" font-size="12.7" font-weight="bold" text-anchor="middle" fill="#000">ns</text>
<path d="M468 559.8V555.3Q468 553.7 469.6 553.7H525.3Q526.9 553.7 526.9 555.3V559.8" fill="none" stroke="#111" stroke-width="1.85"/>
<path d="M468 579.7V577.4Q468 575.8 469.6 575.8H496.6Q498.2 575.8 498.2 577.4V579.7" fill="none" stroke="#111" stroke-width="1.85"/>
<text x="495" y="547.2" font-family="'Liberation Serif', serif" font-size="12.7" font-weight="bold" text-anchor="middle" fill="#000">ns</text>
<text x="481.9" y="569" font-family="'Liberation Serif', serif" font-size="12.7" font-weight="bold" text-anchor="middle" fill="#000">ns</text>
<path d="M568.6 559.8V555.3Q568.6 553.7 570.2 553.7H626.1Q627.7 553.7 627.7 555.3V559.8" fill="none" stroke="#111" stroke-width="1.85"/>
<path d="M568.6 579.7V577.4Q568.6 575.8 570.2 575.8H597.7Q599.3 575.8 599.3 577.4V579.7" fill="none" stroke="#111" stroke-width="1.85"/>
<text x="597.3" y="547.2" font-family="'Liberation Serif', serif" font-size="12.7" font-weight="bold" text-anchor="middle" fill="#000">ns</text>
<text x="582.5" y="569" font-family="'Liberation Serif', serif" font-size="12.7" font-weight="bold" text-anchor="middle" fill="#000">ns</text>
<line x1="66.9" y1="711.5" x2="69.7" y2="709.4" stroke="#000" stroke-width="1.2" stroke-linecap="butt"/>
<text x="103.3" y="710.8" font-family="'Liberation Serif', serif" font-size="10.9" font-weight="bold" text-anchor="end" fill="#000" transform="rotate(-45 103.3 710.8)">AFRA</text>
<text x="136.1" y="710.8" font-family="'Liberation Serif', serif" font-size="10.9" font-weight="bold" text-anchor="end" fill="#000" transform="rotate(-45 136.1 710.8)">CHI19</text>
<line x1="165.4" y1="711.5" x2="168.2" y2="709.4" stroke="#000" stroke-width="1.2" stroke-linecap="butt"/>
<text x="202.1" y="710.8" font-family="'Liberation Serif', serif" font-size="10.9" font-weight="bold" text-anchor="end" fill="#000" transform="rotate(-45 202.1 710.8)">AFRA</text>
<text x="234.9" y="710.8" font-family="'Liberation Serif', serif" font-size="10.9" font-weight="bold" text-anchor="end" fill="#000" transform="rotate(-45 234.9 710.8)">CHI19</text>
<line x1="263.6" y1="711.5" x2="266.4" y2="709.4" stroke="#000" stroke-width="1.2" stroke-linecap="butt"/>
<text x="300.4" y="710.8" font-family="'Liberation Serif', serif" font-size="10.9" font-weight="bold" text-anchor="end" fill="#000" transform="rotate(-45 300.4 710.8)">AFRA</text>
<text x="332.7" y="710.8" font-family="'Liberation Serif', serif" font-size="10.9" font-weight="bold" text-anchor="end" fill="#000" transform="rotate(-45 332.7 710.8)">CHI19</text>
<line x1="363.1" y1="711.5" x2="365.9" y2="709.4" stroke="#000" stroke-width="1.2" stroke-linecap="butt"/>
<text x="399.7" y="710.8" font-family="'Liberation Serif', serif" font-size="10.9" font-weight="bold" text-anchor="end" fill="#000" transform="rotate(-45 399.7 710.8)">AFRA</text>
<text x="432.5" y="710.8" font-family="'Liberation Serif', serif" font-size="10.9" font-weight="bold" text-anchor="end" fill="#000" transform="rotate(-45 432.5 710.8)">CHI19</text>
<line x1="462.1" y1="711.5" x2="464.9" y2="709.4" stroke="#000" stroke-width="1.2" stroke-linecap="butt"/>
<text x="498.4" y="710.8" font-family="'Liberation Serif', serif" font-size="10.9" font-weight="bold" text-anchor="end" fill="#000" transform="rotate(-45 498.4 710.8)">AFRA</text>
<text x="531.4" y="710.8" font-family="'Liberation Serif', serif" font-size="10.9" font-weight="bold" text-anchor="end" fill="#000" transform="rotate(-45 531.4 710.8)">CHI19</text>
<line x1="560.4" y1="711.5" x2="563.2" y2="709.4" stroke="#000" stroke-width="1.2" stroke-linecap="butt"/>
<text x="597.1" y="710.8" font-family="'Liberation Serif', serif" font-size="10.9" font-weight="bold" text-anchor="end" fill="#000" transform="rotate(-45 597.1 710.8)">AFRA</text>
<text x="630.1" y="710.8" font-family="'Liberation Serif', serif" font-size="10.9" font-weight="bold" text-anchor="end" fill="#000" transform="rotate(-45 630.1 710.8)">CHI19</text>
<line x1="61" y1="742.9" x2="149.2" y2="742.9" stroke="#000" stroke-width="3" stroke-linecap="butt"/>
<line x1="165.5" y1="742.9" x2="254.3" y2="742.9" stroke="#000" stroke-width="3" stroke-linecap="butt"/>
<line x1="260.5" y1="742.9" x2="349" y2="742.9" stroke="#000" stroke-width="3" stroke-linecap="butt"/>
<line x1="354.3" y1="742.9" x2="443.4" y2="742.9" stroke="#000" stroke-width="3" stroke-linecap="butt"/>
<line x1="457.3" y1="742.9" x2="545.8" y2="742.9" stroke="#000" stroke-width="3" stroke-linecap="butt"/>
<line x1="551.9" y1="742.9" x2="639.9" y2="742.9" stroke="#000" stroke-width="3" stroke-linecap="butt"/>
<text x="104.2" y="764.8" font-family="'Liberation Serif', serif" font-size="14.3" font-weight="bold" text-anchor="middle" fill="#000">CaCo2</text>
<text x="211.6" y="764.8" font-family="'Liberation Serif', serif" font-size="14.3" font-weight="bold" text-anchor="middle" fill="#000">PaCa44</text>
<text x="304.1" y="764.8" font-family="'Liberation Serif', serif" font-size="14.3" font-weight="bold" text-anchor="middle" fill="#000">A431</text>
<text x="401.8" y="764.8" font-family="'Liberation Serif', serif" font-size="14.3" font-weight="bold" text-anchor="middle" fill="#000">MDAMB231</text>
<text x="503.5" y="764.8" font-family="'Liberation Serif', serif" font-size="14.3" font-weight="bold" text-anchor="middle" fill="#000">T47D</text>
<text x="600.4" y="764.8" font-family="'Liberation Serif', serif" font-size="14.3" font-weight="bold" text-anchor="middle" fill="#000">EFM192A</text>
<rect x="64.4" y="300.4" width="101.1" height="100.9" fill="#fff" stroke="#9a9a9a" stroke-width="1"/>
<clipPath id="cp64_300"><rect x="64.4" y="300.4" width="101.1" height="100.9"/></clipPath>
<g clip-path="url(#cp64_300)">
<path d="M105.7,401.3 L105.7,401 113.1,396.8 119.1,392.3 123.6,390.1 129.5,381.9 134,374.4 138.4,364 144.4,357.3 148.1,355.8 151.8,365.5 156.3,384.9 160.8,398.3 163,401 L163,401.3Z" fill="#66dcfa" stroke="none"/>
<polyline points="105.7,401 113.1,396.8 119.1,392.3 123.6,390.1 129.5,381.9 134,374.4 138.4,364 144.4,357.3 148.1,355.8 151.8,365.5 156.3,384.9 160.8,398.3 163,401" fill="none" stroke="#2ab8f0" stroke-width="0.9" stroke-opacity="0.9"/>
<path d="M113.1,401.3 L113.1,401 123.6,398.3 129.5,389.3 134,375.9 137.7,364 139.9,353.6 142.9,344.7 145.1,343.9 147.4,352.1 150.4,359.6 153.3,368.5 156.3,383.4 159.3,396.8 161.5,401 L161.5,401.3Z" fill="rgba(246,100,100,0.58)" stroke="none"/>
<polyline points="113.1,401 123.6,398.3 129.5,389.3 134,375.9 137.7,364 139.9,353.6 142.9,344.7 145.1,343.9 147.4,352.1 150.4,359.6 153.3,368.5 156.3,383.4 159.3,396.8 161.5,401" fill="none" stroke="#ee5555" stroke-width="0.9" stroke-opacity="0.9"/>
<path d="M71.4,401.3 L71.4,401 78.9,390.8 82.6,370 85.6,337.2 87.8,317.1 89,318 90.5,314.9 91.5,335.7 93.8,336.5 96,349.1 98.2,374.4 100.5,395.3 103.5,401 L103.5,401.3Z" fill="rgba(135,245,45,0.5)" stroke="none"/>
<polyline points="71.4,401 78.9,390.8 82.6,370 85.6,337.2 87.8,317.1 89,318 90.5,314.9 91.5,335.7 93.8,336.5 96,349.1 98.2,374.4 100.5,395.3 103.5,401" fill="none" stroke="#8ae43a" stroke-width="0.9" stroke-opacity="0.9"/>
</g>
<line x1="64.4" y1="300.4" x2="64.4" y2="401.3" stroke="#555" stroke-width="1" stroke-linecap="butt"/>
<line x1="64.4" y1="401.3" x2="165.5" y2="401.3" stroke="#555" stroke-width="1" stroke-linecap="butt"/>
<text x="60" y="303.6" font-family="'Liberation Serif', serif" font-size="9.5" font-weight="normal" text-anchor="end" fill="#222">150</text>
<text x="60" y="370.7" font-family="'Liberation Serif', serif" font-size="9.5" font-weight="normal" text-anchor="end" fill="#222">50</text>
<path d="M60.4 300.4H64.4M60.4 367.5H64.4M66.7 401.3V404.3M89.3 401.3V404.3M111.9 401.3V404.3M134.5 401.3V404.3M157.1 401.3V404.3" stroke="#444" stroke-width="1" fill="none"/>
<path d="M62.8 401.3H64.4M62.8 394.6H64.4M62.8 387.9H64.4M62.8 381.2H64.4M62.8 374.5H64.4M62.8 367.8H64.4M62.8 361H64.4M62.8 354.3H64.4M62.8 347.6H64.4M62.8 340.9H64.4M62.8 334.2H64.4M62.8 327.5H64.4M62.8 320.8H64.4M62.8 314.1H64.4M62.8 307.4H64.4M62.8 300.7H64.4M64.5 401.3V402.9M65.7 401.3V402.9M73.5 401.3V402.9M77.5 401.3V402.9M80.3 401.3V402.9M82.5 401.3V402.9M84.3 401.3V402.9M85.8 401.3V402.9M87.1 401.3V402.9M88.3 401.3V402.9M96.1 401.3V402.9M100.1 401.3V402.9M102.9 401.3V402.9M105.1 401.3V402.9M106.9 401.3V402.9M108.4 401.3V402.9M109.7 401.3V402.9M110.9 401.3V402.9M118.7 401.3V402.9M122.7 401.3V402.9M125.5 401.3V402.9M127.7 401.3V402.9M129.5 401.3V402.9M131 401.3V402.9M132.3 401.3V402.9M133.5 401.3V402.9M141.3 401.3V402.9M145.3 401.3V402.9M148.1 401.3V402.9M150.3 401.3V402.9M152.1 401.3V402.9M153.6 401.3V402.9M154.9 401.3V402.9M156.1 401.3V402.9M163.9 401.3V402.9" stroke="#666" stroke-width="0.7" fill="none"/>
<text x="88.8" y="413.7" font-family="'Liberation Serif', serif" font-size="9.4" text-anchor="middle" fill="#222">10<tspan font-size="6.1" dy="-3.6">2</tspan></text>
<text x="134" y="413.7" font-family="'Liberation Serif', serif" font-size="9.4" text-anchor="middle" fill="#222">10<tspan font-size="6.1" dy="-3.6">4</tspan></text>
<rect x="192.1" y="300.5" width="101.4" height="100.8" fill="#fff" stroke="#9a9a9a" stroke-width="1"/>
<clipPath id="cp192_300"><rect x="192.1" y="300.5" width="101.4" height="100.8"/></clipPath>
<g clip-path="url(#cp192_300)">
<path d="M233.7,401.3 L233.7,401 241.1,395.3 247.1,383.4 250.8,371.5 253,356.6 255.3,349.9 257.5,347.3 259.7,351.4 262,364 264.2,380.4 266.5,392.3 268.7,399 270.9,401 L270.9,401.3Z" fill="#66dcfa" stroke="none"/>
<polyline points="233.7,401 241.1,395.3 247.1,383.4 250.8,371.5 253,356.6 255.3,349.9 257.5,347.3 259.7,351.4 262,364 264.2,380.4 266.5,392.3 268.7,399 270.9,401" fill="none" stroke="#2ab8f0" stroke-width="0.9" stroke-opacity="0.9"/>
<path d="M217.3,401.3 L217.3,401 226.2,398.3 232.2,393.1 236.7,386.4 239.6,378.9 241.9,370.7 244.1,367.7 245.6,363.3 247.4,359.6 248.6,356.3 250.4,360.3 252.3,365.5 254.5,377.4 257.5,389.3 260.5,396.8 265,401 L265,401.3Z" fill="rgba(246,100,100,0.58)" stroke="none"/>
<polyline points="217.3,401 226.2,398.3 232.2,393.1 236.7,386.4 239.6,378.9 241.9,370.7 244.1,367.7 245.6,363.3 247.4,359.6 248.6,356.3 250.4,360.3 252.3,365.5 254.5,377.4 257.5,389.3 260.5,396.8 265,401" fill="none" stroke="#ee5555" stroke-width="0.9" stroke-opacity="0.9"/>
<path d="M198,401.3 L198,401 205.4,396.8 209.1,386.4 212.1,367 214.3,344.7 216.1,328.3 217.6,319.4 219.1,322.3 220.6,332.8 221.8,349.1 223.3,367 225.1,387.9 227,398.3 229.2,401 L229.2,401.3Z" fill="rgba(135,245,45,0.5)" stroke="none"/>
<polyline points="198,401 205.4,396.8 209.1,386.4 212.1,367 214.3,344.7 216.1,328.3 217.6,319.4 219.1,322.3 220.6,332.8 221.8,349.1 223.3,367 225.1,387.9 227,398.3 229.2,401" fill="none" stroke="#8ae43a" stroke-width="0.9" stroke-opacity="0.9"/>
</g>
<text x="189.1" y="402.5" font-family="'Liberation Serif', serif" font-size="5.5" font-weight="normal" text-anchor="end" fill="#444">0</text>
<line x1="192.1" y1="300.5" x2="192.1" y2="401.3" stroke="#555" stroke-width="1" stroke-linecap="butt"/>
<line x1="192.1" y1="401.3" x2="293.5" y2="401.3" stroke="#555" stroke-width="1" stroke-linecap="butt"/>
<text x="187.7" y="306.8" font-family="'Liberation Serif', serif" font-size="9.5" font-weight="normal" text-anchor="end" fill="#222">250</text>
<text x="187.7" y="345.5" font-family="'Liberation Serif', serif" font-size="9.5" font-weight="normal" text-anchor="end" fill="#222">150</text>
<text x="187.7" y="384.9" font-family="'Liberation Serif', serif" font-size="9.5" font-weight="normal" text-anchor="end" fill="#222">50</text>
<path d="M188.1 303.6H192.1M188.1 342.3H192.1M188.1 381.7H192.1M193.4 401.3V404.3M216 401.3V404.3M238.6 401.3V404.3M261.2 401.3V404.3M283.8 401.3V404.3" stroke="#444" stroke-width="1" fill="none"/>
<path d="M190.5 401.3H192.1M190.5 397.4H192.1M190.5 393.6H192.1M190.5 389.7H192.1M190.5 385.8H192.1M190.5 381.9H192.1M190.5 378.1H192.1M190.5 374.2H192.1M190.5 370.3H192.1M190.5 366.5H192.1M190.5 362.6H192.1M190.5 358.7H192.1M190.5 354.9H192.1M190.5 351H192.1M190.5 347.1H192.1M190.5 343.2H192.1M190.5 339.4H192.1M190.5 335.5H192.1M190.5 331.6H192.1M190.5 327.8H192.1M190.5 323.9H192.1M190.5 320H192.1M190.5 316.2H192.1M190.5 312.3H192.1M190.5 308.4H192.1M190.5 304.5H192.1M190.5 300.7H192.1M192.4 401.3V402.9M200.2 401.3V402.9M204.2 401.3V402.9M207 401.3V402.9M209.2 401.3V402.9M211 401.3V402.9M212.5 401.3V402.9M213.8 401.3V402.9M215 401.3V402.9M222.8 401.3V402.9M226.8 401.3V402.9M229.6 401.3V402.9M231.8 401.3V402.9M233.6 401.3V402.9M235.1 401.3V402.9M236.4 401.3V402.9M237.6 401.3V402.9M245.4 401.3V402.9M249.4 401.3V402.9M252.2 401.3V402.9M254.4 401.3V402.9M256.2 401.3V402.9M257.7 401.3V402.9M259 401.3V402.9M260.2 401.3V402.9M268 401.3V402.9M272 401.3V402.9M274.8 401.3V402.9M277 401.3V402.9M278.8 401.3V402.9M280.3 401.3V402.9M281.6 401.3V402.9M282.8 401.3V402.9M290.6 401.3V402.9" stroke="#666" stroke-width="0.7" fill="none"/>
<text x="215.5" y="413.7" font-family="'Liberation Serif', serif" font-size="9.4" text-anchor="middle" fill="#222">10<tspan font-size="6.1" dy="-3.6">2</tspan></text>
<text x="260.7" y="413.7" font-family="'Liberation Serif', serif" font-size="9.4" text-anchor="middle" fill="#222">10<tspan font-size="6.1" dy="-3.6">4</tspan></text>
<rect x="321" y="299.9" width="101.2" height="101" fill="#fff" stroke="#9a9a9a" stroke-width="1"/>
<clipPath id="cp321_299"><rect x="321" y="299.9" width="101.2" height="101"/></clipPath>
<g clip-path="url(#cp321_299)">
<path d="M374.6,400.9 L374.6,400.5 383.5,394.3 391,379.4 395.4,364.5 399.2,348.1 401.4,337.7 402.9,342.2 405.6,329.5 407.4,339.2 409.6,340 411.8,360 414.1,374.9 417,389.8 419.3,395 421.5,394.3 423,392.8 L423,400.9Z" fill="#66dcfa" stroke="none"/>
<polyline points="374.6,400.5 383.5,394.3 391,379.4 395.4,364.5 399.2,348.1 401.4,337.7 402.9,342.2 405.6,329.5 407.4,339.2 409.6,340 411.8,360 414.1,374.9 417,389.8 419.3,395 421.5,394.3 423,392.8" fill="none" stroke="#2ab8f0" stroke-width="0.9" stroke-opacity="0.9"/>
<path d="M368.6,400.9 L368.6,400.5 374.6,396.5 379.1,392.8 382,389.1 386.5,385.4 390.2,375.7 394,364.5 398.4,349.6 401.4,345.9 404.1,342.9 406.6,346.6 408.8,355.6 411.1,367.5 414.1,382.4 417,391.3 420,395.8 423,394.3 L423,400.9Z" fill="rgba(246,100,100,0.58)" stroke="none"/>
<polyline points="368.6,400.5 374.6,396.5 379.1,392.8 382,389.1 386.5,385.4 390.2,375.7 394,364.5 398.4,349.6 401.4,345.9 404.1,342.9 406.6,346.6 408.8,355.6 411.1,367.5 414.1,382.4 417,391.3 420,395.8 423,394.3" fill="none" stroke="#ee5555" stroke-width="0.9" stroke-opacity="0.9"/>
<path d="M321.2,400.9 L321.2,400.5 321.2,361.5 321.7,398.8 328.4,396.5 334.4,389.8 338.1,380.9 341.1,367.5 343.3,349.6 345.6,331.8 347.5,319.8 349,318.4 350.3,312.1 351.5,322.8 353,333.2 354.5,335.5 356,354.1 357.9,369 360,385.4 362.7,394.3 365.7,398.8 368.6,400.5 L368.6,400.9Z" fill="rgba(135,245,45,0.5)" stroke="none"/>
<polyline points="321.2,400.5 321.2,361.5 321.7,398.8 328.4,396.5 334.4,389.8 338.1,380.9 341.1,367.5 343.3,349.6 345.6,331.8 347.5,319.8 349,318.4 350.3,312.1 351.5,322.8 353,333.2 354.5,335.5 356,354.1 357.9,369 360,385.4 362.7,394.3 365.7,398.8 368.6,400.5" fill="none" stroke="#8ae43a" stroke-width="0.9" stroke-opacity="0.9"/>
</g>
<line x1="321" y1="299.9" x2="321" y2="400.9" stroke="#555" stroke-width="1" stroke-linecap="butt"/>
<line x1="321" y1="400.9" x2="422.2" y2="400.9" stroke="#555" stroke-width="1" stroke-linecap="butt"/>
<text x="316.6" y="308.7" font-family="'Liberation Serif', serif" font-size="9.5" font-weight="normal" text-anchor="end" fill="#222">150</text>
<text x="316.6" y="372" font-family="'Liberation Serif', serif" font-size="9.5" font-weight="normal" text-anchor="end" fill="#222">50</text>
<path d="M317 305.5H321M317 368.8H321M325 400.9V403.9M347.3 400.9V403.9M369.6 400.9V403.9M392 400.9V403.9M414.4 400.9V403.9" stroke="#444" stroke-width="1" fill="none"/>
<path d="M319.4 400.9H321M319.4 394.6H321M319.4 388.2H321M319.4 381.9H321M319.4 375.6H321M319.4 369.3H321M319.4 362.9H321M319.4 356.6H321M319.4 350.3H321M319.4 343.9H321M319.4 337.6H321M319.4 331.3H321M319.4 324.9H321M319.4 318.6H321M319.4 312.3H321M319.4 306H321M321.5 400.9V402.5M322.8 400.9V402.5M323.9 400.9V402.5M331.7 400.9V402.5M335.6 400.9V402.5M338.4 400.9V402.5M340.6 400.9V402.5M342.3 400.9V402.5M343.8 400.9V402.5M345.1 400.9V402.5M346.3 400.9V402.5M354 400.9V402.5M358 400.9V402.5M360.8 400.9V402.5M362.9 400.9V402.5M364.7 400.9V402.5M366.2 400.9V402.5M367.5 400.9V402.5M368.6 400.9V402.5M376.4 400.9V402.5M380.3 400.9V402.5M383.1 400.9V402.5M385.3 400.9V402.5M387 400.9V402.5M388.5 400.9V402.5M389.8 400.9V402.5M391 400.9V402.5M398.7 400.9V402.5M402.7 400.9V402.5M405.5 400.9V402.5M407.6 400.9V402.5M409.4 400.9V402.5M410.9 400.9V402.5M412.2 400.9V402.5M413.3 400.9V402.5M421.1 400.9V402.5" stroke="#666" stroke-width="0.7" fill="none"/>
<text x="346.8" y="413.3" font-family="'Liberation Serif', serif" font-size="9.4" text-anchor="middle" fill="#222">10<tspan font-size="6.1" dy="-3.6">2</tspan></text>
<text x="391.5" y="413.3" font-family="'Liberation Serif', serif" font-size="9.4" text-anchor="middle" fill="#222">10<tspan font-size="6.1" dy="-3.6">4</tspan></text>
<rect x="449.7" y="299.9" width="101.2" height="101" fill="#fff" stroke="#9a9a9a" stroke-width="1"/>
<clipPath id="cp449_299"><rect x="449.7" y="299.9" width="101.2" height="101"/></clipPath>
<g clip-path="url(#cp449_299)">
<path d="M496.6,400.9 L496.6,400.5 505.6,397.3 511.5,388.3 516,377.9 520.5,367.5 524.9,358.6 526.4,352.6 527.6,347.4 529.4,354.1 532.4,353.3 534.6,356.3 537.6,363 540.6,373.5 544.3,386.8 547.3,395.8 551,397.3 L551,400.9Z" fill="#66dcfa" stroke="none"/>
<polyline points="496.6,400.5 505.6,397.3 511.5,388.3 516,377.9 520.5,367.5 524.9,358.6 526.4,352.6 527.6,347.4 529.4,354.1 532.4,353.3 534.6,356.3 537.6,363 540.6,373.5 544.3,386.8 547.3,395.8 551,397.3" fill="none" stroke="#2ab8f0" stroke-width="0.9" stroke-opacity="0.9"/>
<path d="M490.7,400.9 L490.7,400.5 496.6,395 501.1,392.1 505.6,387.6 509.3,382.4 513,376.4 516.7,369 519,367.5 521.2,360 523.4,361.5 525.7,359.3 529.4,360 532.4,364.5 535.4,372 538.3,380.9 541.3,389.8 544.3,395.8 547.3,399 551,400 L551,400.9Z" fill="rgba(246,100,100,0.58)" stroke="none"/>
<polyline points="490.7,400.5 496.6,395 501.1,392.1 505.6,387.6 509.3,382.4 513,376.4 516.7,369 519,367.5 521.2,360 523.4,361.5 525.7,359.3 529.4,360 532.4,364.5 535.4,372 538.3,380.9 541.3,389.8 544.3,395.8 547.3,399 551,400" fill="none" stroke="#ee5555" stroke-width="0.9" stroke-opacity="0.9"/>
<path d="M449.9,400.9 L449.9,400.5 449.9,379.4 450.5,398.8 455,398 459.4,394.3 463.9,386.8 467.6,370.5 470.6,349.6 472.8,331.8 474.6,321.3 476.1,317.6 477.6,324.3 478.8,322.8 480.3,336.2 482.5,351.1 484.7,367.5 487,388.3 489.2,395.8 492.9,400.5 L492.9,400.9Z" fill="rgba(135,245,45,0.5)" stroke="none"/>
<polyline points="449.9,400.5 449.9,379.4 450.5,398.8 455,398 459.4,394.3 463.9,386.8 467.6,370.5 470.6,349.6 472.8,331.8 474.6,321.3 476.1,317.6 477.6,324.3 478.8,322.8 480.3,336.2 482.5,351.1 484.7,367.5 487,388.3 489.2,395.8 492.9,400.5" fill="none" stroke="#8ae43a" stroke-width="0.9" stroke-opacity="0.9"/>
</g>
<text x="446.7" y="402.1" font-family="'Liberation Serif', serif" font-size="5.5" font-weight="normal" text-anchor="end" fill="#444">0</text>
<line x1="449.7" y1="299.9" x2="449.7" y2="400.9" stroke="#555" stroke-width="1" stroke-linecap="butt"/>
<line x1="449.7" y1="400.9" x2="550.9" y2="400.9" stroke="#555" stroke-width="1" stroke-linecap="butt"/>
<text x="445.3" y="321.3" font-family="'Liberation Serif', serif" font-size="9.5" font-weight="normal" text-anchor="end" fill="#222">150</text>
<text x="445.3" y="376.5" font-family="'Liberation Serif', serif" font-size="9.5" font-weight="normal" text-anchor="end" fill="#222">50</text>
<path d="M445.7 318.1H449.7M445.7 373.3H449.7M451.5 400.9V403.9M474.2 400.9V403.9M497 400.9V403.9M519.8 400.9V403.9M542.5 400.9V403.9" stroke="#444" stroke-width="1" fill="none"/>
<path d="M448.1 400.9H449.7M448.1 395.4H449.7M448.1 389.9H449.7M448.1 384.3H449.7M448.1 378.8H449.7M448.1 373.3H449.7M448.1 367.8H449.7M448.1 362.3H449.7M448.1 356.7H449.7M448.1 351.2H449.7M448.1 345.7H449.7M448.1 340.2H449.7M448.1 334.7H449.7M448.1 329.1H449.7M448.1 323.6H449.7M448.1 318.1H449.7M448.1 312.6H449.7M448.1 307.1H449.7M448.1 301.5H449.7M450.5 400.9V402.5M458.3 400.9V402.5M462.4 400.9V402.5M465.2 400.9V402.5M467.4 400.9V402.5M469.2 400.9V402.5M470.7 400.9V402.5M472 400.9V402.5M473.2 400.9V402.5M481.1 400.9V402.5M485.1 400.9V402.5M487.9 400.9V402.5M490.2 400.9V402.5M492 400.9V402.5M493.5 400.9V402.5M494.8 400.9V402.5M496 400.9V402.5M503.8 400.9V402.5M507.9 400.9V402.5M510.7 400.9V402.5M512.9 400.9V402.5M514.7 400.9V402.5M516.2 400.9V402.5M517.5 400.9V402.5M518.7 400.9V402.5M526.6 400.9V402.5M530.6 400.9V402.5M533.4 400.9V402.5M535.7 400.9V402.5M537.5 400.9V402.5M539 400.9V402.5M540.3 400.9V402.5M541.5 400.9V402.5M549.3 400.9V402.5" stroke="#666" stroke-width="0.7" fill="none"/>
<text x="496.5" y="413.3" font-family="'Liberation Serif', serif" font-size="9.4" text-anchor="middle" fill="#222">10<tspan font-size="6.1" dy="-3.6">2</tspan></text>
<text x="542" y="413.3" font-family="'Liberation Serif', serif" font-size="9.4" text-anchor="middle" fill="#222">10<tspan font-size="6.1" dy="-3.6">4</tspan></text>
<rect x="578.1" y="300.3" width="101.2" height="100.8" fill="#fff" stroke="#9a9a9a" stroke-width="1"/>
<clipPath id="cp578_300"><rect x="578.1" y="300.3" width="101.2" height="100.8"/></clipPath>
<g clip-path="url(#cp578_300)">
<path d="M579.5,401.1 L579.5,400.5 587,399 592.9,393.1 596.6,378.9 599.6,359.6 602.6,341.7 604.8,335.7 606.3,335.7 608.5,347.6 610.8,367 612.2,374.4 614.5,384.9 616.7,387.1 619.7,393.1 622.7,395.3 627.1,398.3 633.1,400.5 637.6,401 L637.6,401.1Z" fill="#66dcfa" stroke="none"/>
<polyline points="579.5,400.5 587,399 592.9,393.1 596.6,378.9 599.6,359.6 602.6,341.7 604.8,335.7 606.3,335.7 608.5,347.6 610.8,367 612.2,374.4 614.5,384.9 616.7,387.1 619.7,393.1 622.7,395.3 627.1,398.3 633.1,400.5 637.6,401" fill="none" stroke="#2ab8f0" stroke-width="0.9" stroke-opacity="0.9"/>
<path d="M578.3,401.1 L578.3,395 579.5,400 587,399 592.9,392.3 596.6,377.4 599.6,356.6 602.1,337.2 605.1,322 607,332.8 609.3,350.6 611.1,367 613,383.4 615.2,395.3 619,399.8 625.6,401 L625.6,401.1Z" fill="rgba(246,100,100,0.58)" stroke="none"/>
<polyline points="578.3,395 579.5,400 587,399 592.9,392.3 596.6,377.4 599.6,356.6 602.1,337.2 605.1,322 607,332.8 609.3,350.6 611.1,367 613,383.4 615.2,395.3 619,399.8 625.6,401" fill="none" stroke="#ee5555" stroke-width="0.9" stroke-opacity="0.9"/>
<path d="M578.3,401.1 L578.3,395.3 579.5,400.1 585.4,399 589.9,395.3 593.6,387.8 596.6,374.4 598.8,359.6 600.6,343.2 601.8,339.5 603.3,328.3 604.8,322.3 606,331.3 607.5,344.7 609.3,356.6 610.8,371.5 612.5,386.4 614.5,395.3 617.5,399.8 621.2,401 L621.2,401.1Z" fill="rgba(135,245,45,0.5)" stroke="none"/>
<polyline points="578.3,395.3 579.5,400.1 585.4,399 589.9,395.3 593.6,387.8 596.6,374.4 598.8,359.6 600.6,343.2 601.8,339.5 603.3,328.3 604.8,322.3 606,331.3 607.5,344.7 609.3,356.6 610.8,371.5 612.5,386.4 614.5,395.3 617.5,399.8 621.2,401" fill="none" stroke="#8ae43a" stroke-width="0.9" stroke-opacity="0.9"/>
</g>
<line x1="578.1" y1="300.3" x2="578.1" y2="401.1" stroke="#555" stroke-width="1" stroke-linecap="butt"/>
<line x1="578.1" y1="401.1" x2="679.3" y2="401.1" stroke="#555" stroke-width="1" stroke-linecap="butt"/>
<text x="573.7" y="318.1" font-family="'Liberation Serif', serif" font-size="9.5" font-weight="normal" text-anchor="end" fill="#222">200</text>
<text x="573.7" y="360.5" font-family="'Liberation Serif', serif" font-size="9.5" font-weight="normal" text-anchor="end" fill="#222">100</text>
<path d="M574.1 314.9H578.1M574.1 357.3H578.1M579.1 401.1V404.1M602.4 401.1V404.1M625.7 401.1V404.1M649 401.1V404.1M672.3 401.1V404.1" stroke="#444" stroke-width="1" fill="none"/>
<path d="M576.5 401.1H578.1M576.5 396.9H578.1M576.5 392.6H578.1M576.5 388.4H578.1M576.5 384.1H578.1M576.5 379.9H578.1M576.5 375.7H578.1M576.5 371.4H578.1M576.5 367.2H578.1M576.5 362.9H578.1M576.5 358.7H578.1M576.5 354.5H578.1M576.5 350.2H578.1M576.5 346H578.1M576.5 341.7H578.1M576.5 337.5H578.1M576.5 333.3H578.1M576.5 329H578.1M576.5 324.8H578.1M576.5 320.5H578.1M576.5 316.3H578.1M576.5 312.1H578.1M576.5 307.8H578.1M576.5 303.6H578.1M586.1 401.1V402.7M590.2 401.1V402.7M593.1 401.1V402.7M595.4 401.1V402.7M597.2 401.1V402.7M598.8 401.1V402.7M600.1 401.1V402.7M601.3 401.1V402.7M609.4 401.1V402.7M613.5 401.1V402.7M616.4 401.1V402.7M618.7 401.1V402.7M620.5 401.1V402.7M622.1 401.1V402.7M623.4 401.1V402.7M624.6 401.1V402.7M632.7 401.1V402.7M636.8 401.1V402.7M639.7 401.1V402.7M642 401.1V402.7M643.8 401.1V402.7M645.4 401.1V402.7M646.7 401.1V402.7M647.9 401.1V402.7M656 401.1V402.7M660.1 401.1V402.7M663 401.1V402.7M665.3 401.1V402.7M667.1 401.1V402.7M668.7 401.1V402.7M670 401.1V402.7M671.2 401.1V402.7" stroke="#666" stroke-width="0.7" fill="none"/>
<text x="625.2" y="413.5" font-family="'Liberation Serif', serif" font-size="9.4" text-anchor="middle" fill="#222">10<tspan font-size="6.1" dy="-3.6">2</tspan></text>
<text x="671.8" y="413.5" font-family="'Liberation Serif', serif" font-size="9.4" text-anchor="middle" fill="#222">10<tspan font-size="6.1" dy="-3.6">4</tspan></text>
<line x1="31.5" y1="299" x2="31.5" y2="423.2" stroke="#000" stroke-width="2" stroke-linecap="butt"/>
<path d="M25.3,307.6 L31.5,298.6 L37.7,307.6" fill="none" stroke="#000" stroke-width="2"/>
<line x1="30.5" y1="423.1" x2="677" y2="423.1" stroke="#000" stroke-width="2.1" stroke-linecap="butt"/>
<path d="M669,418.4 L678,423.1 L669,427.8" fill="none" stroke="#000" stroke-width="1.9" stroke-linejoin="miter"/>
<text x="17.1" y="349" font-family="'Liberation Serif', serif" font-size="15" font-weight="bold" text-anchor="middle" fill="#000" transform="rotate(-90 17.1 349)">Count</text>
<text x="364.8" y="453.1" font-family="'Liberation Serif', serif" font-size="14.5" font-weight="bold" text-anchor="middle" fill="#000">MFI</text>
<rect x="68.3" y="794.6" width="75.7" height="76.2" fill="#fff" stroke="#9a9a9a" stroke-width="1"/>
<clipPath id="cp68_794"><rect x="68.3" y="794.6" width="75.7" height="76.2"/></clipPath>
<g clip-path="url(#cp68_794)">
<path d="M99.5,870.8 L99.5,870 104,866 107.3,859.2 109.6,852.5 111.3,846.8 113,841.8 115.2,836.7 117.5,832.8 119.7,835 121.4,837.3 123.6,843.5 125.9,849.1 127.6,857 129.8,863.7 132.6,867.6 136.6,870 L136.6,870.8Z" fill="#66dcfa" stroke="none"/>
<polyline points="99.5,870 104,866 107.3,859.2 109.6,852.5 111.3,846.8 113,841.8 115.2,836.7 117.5,832.8 119.7,835 121.4,837.3 123.6,843.5 125.9,849.1 127.6,857 129.8,863.7 132.6,867.6 136.6,870" fill="none" stroke="#2ab8f0" stroke-width="0.9" stroke-opacity="0.9"/>
<path d="M81.5,870.8 L81.5,870 87.1,866 91.6,858.1 95,851.3 96.7,849.1 98.4,851.9 100.6,850.8 102.8,849.1 105.1,847.4 106.8,846.8 108.5,849.1 110.7,849.1 113.5,848.5 115.2,852.5 117.5,854.7 119.7,859.2 123.1,864.8 126.5,868.2 130.9,870 L130.9,870.8Z" fill="rgba(246,100,100,0.58)" stroke="none"/>
<polyline points="81.5,870 87.1,866 91.6,858.1 95,851.3 96.7,849.1 98.4,851.9 100.6,850.8 102.8,849.1 105.1,847.4 106.8,846.8 108.5,849.1 110.7,849.1 113.5,848.5 115.2,852.5 117.5,854.7 119.7,859.2 123.1,864.8 126.5,868.2 130.9,870" fill="none" stroke="#ee5555" stroke-width="0.9" stroke-opacity="0.9"/>
<path d="M68.4,870.8 L68.4,870 68.4,853 69,869 70.2,870 74.7,866 78.1,860.3 80.4,849.1 82.6,836.7 84.3,822.1 85.8,814.2 86.5,812.5 87.7,815.4 88.8,821 90.3,826.6 91.6,832.2 92.7,841.2 93.9,850.2 95.5,860.3 97.2,867.1 98.9,870 L98.9,870.8Z" fill="rgba(135,245,45,0.5)" stroke="none"/>
<polyline points="68.4,870 68.4,853 69,869 70.2,870 74.7,866 78.1,860.3 80.4,849.1 82.6,836.7 84.3,822.1 85.8,814.2 86.5,812.5 87.7,815.4 88.8,821 90.3,826.6 91.6,832.2 92.7,841.2 93.9,850.2 95.5,860.3 97.2,867.1 98.9,870" fill="none" stroke="#8ae43a" stroke-width="0.9" stroke-opacity="0.9"/>
</g>
<line x1="68.3" y1="794.6" x2="68.3" y2="870.8" stroke="#555" stroke-width="1" stroke-linecap="butt"/>
<line x1="68.3" y1="870.8" x2="144" y2="870.8" stroke="#555" stroke-width="1" stroke-linecap="butt"/>
<text x="64.7" y="810.8" font-family="'Liberation Serif', serif" font-size="9.3" font-weight="normal" text-anchor="end" fill="#222">120</text>
<text x="64.7" y="843.1" font-family="'Liberation Serif', serif" font-size="9.3" font-weight="normal" text-anchor="end" fill="#222">60</text>
<path d="M65.1 807.6H68.3M65.1 839.9H68.3M70.9 870.8V873.8M88 870.8V873.8M105.1 870.8V873.8M122.2 870.8V873.8M139.3 870.8V873.8" stroke="#444" stroke-width="1" fill="none"/>
<path d="M66.7 870.8H68.3M66.7 865.4H68.3M66.7 860H68.3M66.7 854.6H68.3M66.7 849.3H68.3M66.7 843.9H68.3M66.7 838.5H68.3M66.7 833.1H68.3M66.7 827.7H68.3M66.7 822.4H68.3M66.7 817H68.3M66.7 811.6H68.3M66.7 806.2H68.3M66.7 800.8H68.3M66.7 795.4H68.3M69.2 870.8V872.4M70.1 870.8V872.4M76 870.8V872.4M79.1 870.8V872.4M81.2 870.8V872.4M82.9 870.8V872.4M84.2 870.8V872.4M85.4 870.8V872.4M86.3 870.8V872.4M87.2 870.8V872.4M93.1 870.8V872.4M96.2 870.8V872.4M98.3 870.8V872.4M100 870.8V872.4M101.3 870.8V872.4M102.5 870.8V872.4M103.4 870.8V872.4M104.3 870.8V872.4M110.2 870.8V872.4M113.3 870.8V872.4M115.4 870.8V872.4M117.1 870.8V872.4M118.4 870.8V872.4M119.6 870.8V872.4M120.5 870.8V872.4M121.4 870.8V872.4M127.3 870.8V872.4M130.4 870.8V872.4M132.5 870.8V872.4M134.2 870.8V872.4M135.5 870.8V872.4M136.7 870.8V872.4M137.6 870.8V872.4M138.5 870.8V872.4" stroke="#666" stroke-width="0.7" fill="none"/>
<text x="88" y="881.7" font-family="'Liberation Serif', serif" font-size="9" text-anchor="middle" fill="#222">10<tspan font-size="5.9" dy="-3.6">2</tspan></text>
<text x="122.2" y="881.7" font-family="'Liberation Serif', serif" font-size="9" text-anchor="middle" fill="#222">10<tspan font-size="5.9" dy="-3.6">4</tspan></text>
<rect x="164.4" y="794.6" width="76.8" height="76.2" fill="#fff" stroke="#9a9a9a" stroke-width="1"/>
<clipPath id="cp164_794"><rect x="164.4" y="794.6" width="76.8" height="76.2"/></clipPath>
<g clip-path="url(#cp164_794)">
<path d="M167.4,870.8 L167.4,870 173,866 178.6,857 182.5,842.3 185.4,834.5 187,826.6 189.9,824.4 192.1,828.8 193.8,831.1 195.5,834.5 196.6,837.8 197.7,845.7 200,850.2 202.2,855.8 205.6,863.7 209,867.6 213.5,870 L213.5,870.8Z" fill="#66dcfa" stroke="none"/>
<polyline points="167.4,870 173,866 178.6,857 182.5,842.3 185.4,834.5 187,826.6 189.9,824.4 192.1,828.8 193.8,831.1 195.5,834.5 196.6,837.8 197.7,845.7 200,850.2 202.2,855.8 205.6,863.7 209,867.6 213.5,870" fill="none" stroke="#2ab8f0" stroke-width="0.9" stroke-opacity="0.9"/>
<path d="M175.2,870.8 L175.2,870 182,867 187.6,861.4 191,857 194.4,851.3 196.6,848 198.8,842.3 201.1,841.2 202.8,837.3 204.5,839.5 206.7,839 209,839.5 210.7,841.2 212.3,845.7 214.6,850.2 216.8,854.7 219.1,860.3 221.3,866 224.7,870 L224.7,870.8Z" fill="rgba(246,100,100,0.58)" stroke="none"/>
<polyline points="175.2,870 182,867 187.6,861.4 191,857 194.4,851.3 196.6,848 198.8,842.3 201.1,841.2 202.8,837.3 204.5,839.5 206.7,839 209,839.5 210.7,841.2 212.3,845.7 214.6,850.2 216.8,854.7 219.1,860.3 221.3,866 224.7,870" fill="none" stroke="#ee5555" stroke-width="0.9" stroke-opacity="0.9"/>
<path d="M164.8,870.8 L164.8,870 164.8,848 166.2,869.5 170.7,867 175.2,860.3 178.6,851.3 180.9,842.3 182.5,831.1 184.8,826.6 186.5,819.9 187.6,813.7 189,815.4 189.9,814.2 191,825.5 192.7,832.2 193.5,839 194.4,846.8 196,853.6 197.7,858.1 201.1,862.6 204.5,866 209,868.2 213.5,870 L213.5,870.8Z" fill="rgba(135,245,45,0.5)" stroke="none"/>
<polyline points="164.8,870 164.8,848 166.2,869.5 170.7,867 175.2,860.3 178.6,851.3 180.9,842.3 182.5,831.1 184.8,826.6 186.5,819.9 187.6,813.7 189,815.4 189.9,814.2 191,825.5 192.7,832.2 193.5,839 194.4,846.8 196,853.6 197.7,858.1 201.1,862.6 204.5,866 209,868.2 213.5,870" fill="none" stroke="#8ae43a" stroke-width="0.9" stroke-opacity="0.9"/>
</g>
<line x1="164.4" y1="794.6" x2="164.4" y2="870.8" stroke="#555" stroke-width="1" stroke-linecap="butt"/>
<line x1="164.4" y1="870.8" x2="241.2" y2="870.8" stroke="#555" stroke-width="1" stroke-linecap="butt"/>
<text x="160.8" y="800.3" font-family="'Liberation Serif', serif" font-size="9.3" font-weight="normal" text-anchor="end" fill="#222">150</text>
<text x="160.8" y="850.2" font-family="'Liberation Serif', serif" font-size="9.3" font-weight="normal" text-anchor="end" fill="#222">50</text>
<path d="M161.2 797.1H164.4M161.2 847H164.4M167.6 870.8V873.8M184.7 870.8V873.8M201.8 870.8V873.8M218.8 870.8V873.8M235.9 870.8V873.8" stroke="#444" stroke-width="1" fill="none"/>
<path d="M162.8 870.8H164.4M162.8 865.8H164.4M162.8 860.8H164.4M162.8 855.8H164.4M162.8 850.8H164.4M162.8 845.8H164.4M162.8 840.9H164.4M162.8 835.9H164.4M162.8 830.9H164.4M162.8 825.9H164.4M162.8 820.9H164.4M162.8 815.9H164.4M162.8 810.9H164.4M162.8 805.9H164.4M162.8 800.9H164.4M162.8 795.9H164.4M165 870.8V872.4M166 870.8V872.4M166.9 870.8V872.4M172.8 870.8V872.4M175.8 870.8V872.4M177.9 870.8V872.4M179.6 870.8V872.4M180.9 870.8V872.4M182.1 870.8V872.4M183 870.8V872.4M183.9 870.8V872.4M189.8 870.8V872.4M192.8 870.8V872.4M195 870.8V872.4M196.6 870.8V872.4M198 870.8V872.4M199.1 870.8V872.4M200.1 870.8V872.4M201 870.8V872.4M206.9 870.8V872.4M209.9 870.8V872.4M212 870.8V872.4M213.7 870.8V872.4M215 870.8V872.4M216.2 870.8V872.4M217.1 870.8V872.4M218 870.8V872.4M223.9 870.8V872.4M226.9 870.8V872.4M229.1 870.8V872.4M230.7 870.8V872.4M232.1 870.8V872.4M233.2 870.8V872.4M234.2 870.8V872.4M235.1 870.8V872.4M241 870.8V872.4" stroke="#666" stroke-width="0.7" fill="none"/>
<text x="184.7" y="881.7" font-family="'Liberation Serif', serif" font-size="9" text-anchor="middle" fill="#222">10<tspan font-size="5.9" dy="-3.6">2</tspan></text>
<text x="218.8" y="881.7" font-family="'Liberation Serif', serif" font-size="9" text-anchor="middle" fill="#222">10<tspan font-size="5.9" dy="-3.6">4</tspan></text>
<rect x="261.3" y="794.6" width="76.7" height="76.2" fill="#fff" stroke="#9a9a9a" stroke-width="1"/>
<clipPath id="cp261_794"><rect x="261.3" y="794.6" width="76.7" height="76.2"/></clipPath>
<g clip-path="url(#cp261_794)">
<path d="M265.5,870.8 L265.5,870.2 271.1,865.9 274.5,848 276.7,831.1 277.9,824.4 279.2,826.6 280.7,836.7 282.4,850.2 283.5,854.1 285.2,858.1 286.9,862.6 289.1,866.5 291.9,868.8 295.8,870.2 L295.8,870.8Z" fill="#66dcfa" stroke="none"/>
<polyline points="265.5,870.2 271.1,865.9 274.5,848 276.7,831.1 277.9,824.4 279.2,826.6 280.7,836.7 282.4,850.2 283.5,854.1 285.2,858.1 286.9,862.6 289.1,866.5 291.9,868.8 295.8,870.2" fill="none" stroke="#2ab8f0" stroke-width="0.9" stroke-opacity="0.9"/>
<path d="M265.5,870.8 L265.5,870.2 270,868.2 273.4,857 275.6,839 277.6,821 279,813.7 280.1,821 281.2,827.7 282.4,841.2 283.5,857 284.6,867.1 286.9,870.2 L286.9,870.8Z" fill="rgba(246,100,100,0.58)" stroke="none"/>
<polyline points="265.5,870.2 270,868.2 273.4,857 275.6,839 277.6,821 279,813.7 280.1,821 281.2,827.7 282.4,841.2 283.5,857 284.6,867.1 286.9,870.2" fill="none" stroke="#ee5555" stroke-width="0.9" stroke-opacity="0.9"/>
<path d="M263.2,870.8 L263.2,870.2 267.7,869.3 271.1,861.4 273.4,846.8 275.1,830 276.5,810.9 277.3,807.5 278.4,808.6 279.2,818.7 280.1,831.1 281,844.6 282.1,857 283.5,864.8 285.7,868.8 289.1,870.2 L289.1,870.8Z" fill="rgba(135,245,45,0.5)" stroke="none"/>
<polyline points="263.2,870.2 267.7,869.3 271.1,861.4 273.4,846.8 275.1,830 276.5,810.9 277.3,807.5 278.4,808.6 279.2,818.7 280.1,831.1 281,844.6 282.1,857 283.5,864.8 285.7,868.8 289.1,870.2" fill="none" stroke="#8ae43a" stroke-width="0.9" stroke-opacity="0.9"/>
</g>
<line x1="261.3" y1="794.6" x2="261.3" y2="870.8" stroke="#555" stroke-width="1" stroke-linecap="butt"/>
<line x1="261.3" y1="870.8" x2="338" y2="870.8" stroke="#555" stroke-width="1" stroke-linecap="butt"/>
<text x="257.7" y="800.3" font-family="'Liberation Serif', serif" font-size="9.3" font-weight="normal" text-anchor="end" fill="#222">250</text>
<text x="257.7" y="830" font-family="'Liberation Serif', serif" font-size="9.3" font-weight="normal" text-anchor="end" fill="#222">150</text>
<text x="257.7" y="859.4" font-family="'Liberation Serif', serif" font-size="9.3" font-weight="normal" text-anchor="end" fill="#222">50</text>
<path d="M258.1 797.1H261.3M258.1 826.8H261.3M258.1 856.2H261.3M264.9 870.8V873.8M282 870.8V873.8M299.1 870.8V873.8M316.2 870.8V873.8M333.3 870.8V873.8" stroke="#444" stroke-width="1" fill="none"/>
<path d="M259.7 870.8H261.3M259.7 867.8H261.3M259.7 864.9H261.3M259.7 861.9H261.3M259.7 858.9H261.3M259.7 855.9H261.3M259.7 853H261.3M259.7 850H261.3M259.7 847H261.3M259.7 844.1H261.3M259.7 841.1H261.3M259.7 838.1H261.3M259.7 835.2H261.3M259.7 832.2H261.3M259.7 829.2H261.3M259.7 826.2H261.3M259.7 823.3H261.3M259.7 820.3H261.3M259.7 817.3H261.3M259.7 814.4H261.3M259.7 811.4H261.3M259.7 808.4H261.3M259.7 805.5H261.3M259.7 802.5H261.3M259.7 799.5H261.3M259.7 796.5H261.3M262.3 870.8V872.4M263.2 870.8V872.4M264.1 870.8V872.4M270 870.8V872.4M273.1 870.8V872.4M275.2 870.8V872.4M276.9 870.8V872.4M278.2 870.8V872.4M279.4 870.8V872.4M280.3 870.8V872.4M281.2 870.8V872.4M287.1 870.8V872.4M290.2 870.8V872.4M292.3 870.8V872.4M294 870.8V872.4M295.3 870.8V872.4M296.5 870.8V872.4M297.4 870.8V872.4M298.3 870.8V872.4M304.2 870.8V872.4M307.3 870.8V872.4M309.4 870.8V872.4M311.1 870.8V872.4M312.4 870.8V872.4M313.6 870.8V872.4M314.5 870.8V872.4M315.4 870.8V872.4M321.3 870.8V872.4M324.4 870.8V872.4M326.5 870.8V872.4M328.2 870.8V872.4M329.5 870.8V872.4M330.7 870.8V872.4M331.6 870.8V872.4M332.5 870.8V872.4" stroke="#666" stroke-width="0.7" fill="none"/>
<text x="282" y="881.7" font-family="'Liberation Serif', serif" font-size="9" text-anchor="middle" fill="#222">10<tspan font-size="5.9" dy="-3.6">2</tspan></text>
<text x="316.2" y="881.7" font-family="'Liberation Serif', serif" font-size="9" text-anchor="middle" fill="#222">10<tspan font-size="5.9" dy="-3.6">4</tspan></text>
<rect x="359.7" y="794.6" width="75.7" height="76.2" fill="#fff" stroke="#9a9a9a" stroke-width="1"/>
<clipPath id="cp359_794"><rect x="359.7" y="794.6" width="75.7" height="76.2"/></clipPath>
<g clip-path="url(#cp359_794)">
<path d="M366.9,870.8 L366.9,870 372.5,866 375.9,859.2 377.5,848 379.8,841.2 382,835.6 383.7,833.9 385.4,840.1 387.1,842.3 388.8,840.1 390.5,845.7 392.2,849.1 394.4,846.8 396.1,851.3 397.8,854.7 400,858.6 402.3,862.6 405.1,867.1 408.5,870 L408.5,870.8Z" fill="#66dcfa" stroke="none"/>
<polyline points="366.9,870 372.5,866 375.9,859.2 377.5,848 379.8,841.2 382,835.6 383.7,833.9 385.4,840.1 387.1,842.3 388.8,840.1 390.5,845.7 392.2,849.1 394.4,846.8 396.1,851.3 397.8,854.7 400,858.6 402.3,862.6 405.1,867.1 408.5,870" fill="none" stroke="#2ab8f0" stroke-width="0.9" stroke-opacity="0.9"/>
<path d="M370.2,870.8 L370.2,870 375.9,867 380.4,863.7 383.2,861.4 385.4,858.6 387.7,860.3 390.5,858.6 392.7,854.7 395,853.6 397.2,846.8 399.5,840.1 401.2,834.5 402.8,832.2 404.5,826.6 406.2,834.5 408.5,844.6 410.1,857 411.8,863.7 414.1,868.8 416.3,870 L416.3,870.8Z" fill="rgba(246,100,100,0.58)" stroke="none"/>
<polyline points="370.2,870 375.9,867 380.4,863.7 383.2,861.4 385.4,858.6 387.7,860.3 390.5,858.6 392.7,854.7 395,853.6 397.2,846.8 399.5,840.1 401.2,834.5 402.8,832.2 404.5,826.6 406.2,834.5 408.5,844.6 410.1,857 411.8,863.7 414.1,868.8 416.3,870" fill="none" stroke="#ee5555" stroke-width="0.9" stroke-opacity="0.9"/>
<path d="M360.1,870.8 L360.1,870 363.5,867 365.7,864.3 368,863.7 370.2,850.2 372.5,841.2 374.2,822.1 375.9,814.2 377.5,804.7 379,806.4 380.4,818.7 381.5,827.7 382.6,841.2 384,853.6 385.8,863.7 388.2,868.2 391.6,870 L391.6,870.8Z" fill="rgba(135,245,45,0.5)" stroke="none"/>
<polyline points="360.1,870 363.5,867 365.7,864.3 368,863.7 370.2,850.2 372.5,841.2 374.2,822.1 375.9,814.2 377.5,804.7 379,806.4 380.4,818.7 381.5,827.7 382.6,841.2 384,853.6 385.8,863.7 388.2,868.2 391.6,870" fill="none" stroke="#8ae43a" stroke-width="0.9" stroke-opacity="0.9"/>
</g>
<line x1="359.7" y1="794.6" x2="359.7" y2="870.8" stroke="#555" stroke-width="1" stroke-linecap="butt"/>
<line x1="359.7" y1="870.8" x2="435.4" y2="870.8" stroke="#555" stroke-width="1" stroke-linecap="butt"/>
<text x="356.1" y="805.5" font-family="'Liberation Serif', serif" font-size="9.3" font-weight="normal" text-anchor="end" fill="#222">150</text>
<text x="356.1" y="851" font-family="'Liberation Serif', serif" font-size="9.3" font-weight="normal" text-anchor="end" fill="#222">50</text>
<path d="M356.5 802.3H359.7M356.5 847.8H359.7M360.9 870.8V873.8M378.7 870.8V873.8M396.4 870.8V873.8M414.2 870.8V873.8M431.9 870.8V873.8" stroke="#444" stroke-width="1" fill="none"/>
<path d="M358.1 870.8H359.7M358.1 866.2H359.7M358.1 861.7H359.7M358.1 857.2H359.7M358.1 852.6H359.7M358.1 848.1H359.7M358.1 843.5H359.7M358.1 839H359.7M358.1 834.4H359.7M358.1 829.9H359.7M358.1 825.3H359.7M358.1 820.8H359.7M358.1 816.2H359.7M358.1 811.7H359.7M358.1 807.1H359.7M358.1 802.6H359.7M358.1 798H359.7M360.1 870.8V872.4M366.3 870.8V872.4M369.4 870.8V872.4M371.6 870.8V872.4M373.4 870.8V872.4M374.8 870.8V872.4M376 870.8V872.4M377 870.8V872.4M377.9 870.8V872.4M384 870.8V872.4M387.2 870.8V872.4M389.4 870.8V872.4M391.1 870.8V872.4M392.5 870.8V872.4M393.7 870.8V872.4M394.7 870.8V872.4M395.6 870.8V872.4M401.8 870.8V872.4M404.9 870.8V872.4M407.1 870.8V872.4M408.9 870.8V872.4M410.3 870.8V872.4M411.5 870.8V872.4M412.5 870.8V872.4M413.4 870.8V872.4M419.5 870.8V872.4M422.7 870.8V872.4M424.9 870.8V872.4M426.6 870.8V872.4M428 870.8V872.4M429.2 870.8V872.4M430.2 870.8V872.4M431.1 870.8V872.4" stroke="#666" stroke-width="0.7" fill="none"/>
<text x="378.7" y="881.7" font-family="'Liberation Serif', serif" font-size="9" text-anchor="middle" fill="#222">10<tspan font-size="5.9" dy="-3.6">2</tspan></text>
<text x="414.2" y="881.7" font-family="'Liberation Serif', serif" font-size="9" text-anchor="middle" fill="#222">10<tspan font-size="5.9" dy="-3.6">4</tspan></text>
<rect x="466.4" y="794.6" width="76.2" height="76.2" fill="#fff" stroke="#9a9a9a" stroke-width="1"/>
<clipPath id="cp466_794"><rect x="466.4" y="794.6" width="76.2" height="76.2"/></clipPath>
<g clip-path="url(#cp466_794)">
<path d="M498.6,870.8 L498.6,870 504.2,867.1 508.7,861.4 511.5,852.5 513.2,841.2 514.6,831.1 516,824.4 517.7,819.9 519.1,817.3 520.5,821 521.6,827.7 523.3,835.6 525,842.3 526.7,852.5 529,861.4 531.2,867.1 534.6,870 L534.6,870.8Z" fill="#66dcfa" stroke="none"/>
<polyline points="498.6,870 504.2,867.1 508.7,861.4 511.5,852.5 513.2,841.2 514.6,831.1 516,824.4 517.7,819.9 519.1,817.3 520.5,821 521.6,827.7 523.3,835.6 525,842.3 526.7,852.5 529,861.4 531.2,867.1 534.6,870" fill="none" stroke="#2ab8f0" stroke-width="0.9" stroke-opacity="0.9"/>
<path d="M488.5,870.8 L488.5,870 495.2,866 498.6,861.4 502,858.1 504.8,850.2 506.5,841.2 508.7,839 509.8,833.3 511.5,830.2 512.7,834.5 514.3,839 516.6,843.5 518.8,850.2 521.1,855.8 523.9,862.6 527.3,867.6 531.2,870 L531.2,870.8Z" fill="rgba(246,100,100,0.58)" stroke="none"/>
<polyline points="488.5,870 495.2,866 498.6,861.4 502,858.1 504.8,850.2 506.5,841.2 508.7,839 509.8,833.3 511.5,830.2 512.7,834.5 514.3,839 516.6,843.5 518.8,850.2 521.1,855.8 523.9,862.6 527.3,867.6 531.2,870" fill="none" stroke="#ee5555" stroke-width="0.9" stroke-opacity="0.9"/>
<path d="M467.7,870.8 L467.7,870 472.7,867.6 476.7,863.7 479.5,852.5 481.7,839 483.4,824.4 484.9,812 486,809.2 487.4,812 488.5,819.9 489.8,828.8 491.3,839 493,850.2 494.7,860.3 496.4,866 499.2,870 L499.2,870.8Z" fill="rgba(135,245,45,0.5)" stroke="none"/>
<polyline points="467.7,870 472.7,867.6 476.7,863.7 479.5,852.5 481.7,839 483.4,824.4 484.9,812 486,809.2 487.4,812 488.5,819.9 489.8,828.8 491.3,839 493,850.2 494.7,860.3 496.4,866 499.2,870" fill="none" stroke="#8ae43a" stroke-width="0.9" stroke-opacity="0.9"/>
</g>
<line x1="466.4" y1="794.6" x2="466.4" y2="870.8" stroke="#555" stroke-width="1" stroke-linecap="butt"/>
<line x1="466.4" y1="870.8" x2="542.6" y2="870.8" stroke="#555" stroke-width="1" stroke-linecap="butt"/>
<text x="462.8" y="801.6" font-family="'Liberation Serif', serif" font-size="9.3" font-weight="normal" text-anchor="end" fill="#222">150</text>
<text x="462.8" y="850.2" font-family="'Liberation Serif', serif" font-size="9.3" font-weight="normal" text-anchor="end" fill="#222">50</text>
<path d="M463.2 798.4H466.4M463.2 847H466.4M468.3 870.8V873.8M485.8 870.8V873.8M503.3 870.8V873.8M520.8 870.8V873.8M538.3 870.8V873.8" stroke="#444" stroke-width="1" fill="none"/>
<path d="M464.8 870.8H466.4M464.8 865.9H466.4M464.8 861.1H466.4M464.8 856.2H466.4M464.8 851.4H466.4M464.8 846.5H466.4M464.8 841.6H466.4M464.8 836.8H466.4M464.8 831.9H466.4M464.8 827.1H466.4M464.8 822.2H466.4M464.8 817.3H466.4M464.8 812.5H466.4M464.8 807.6H466.4M464.8 802.8H466.4M464.8 797.9H466.4M466.6 870.8V872.4M467.5 870.8V872.4M473.6 870.8V872.4M476.6 870.8V872.4M478.8 870.8V872.4M480.5 870.8V872.4M481.9 870.8V872.4M483.1 870.8V872.4M484.1 870.8V872.4M485 870.8V872.4M491.1 870.8V872.4M494.1 870.8V872.4M496.3 870.8V872.4M498 870.8V872.4M499.4 870.8V872.4M500.6 870.8V872.4M501.6 870.8V872.4M502.5 870.8V872.4M508.6 870.8V872.4M511.6 870.8V872.4M513.8 870.8V872.4M515.5 870.8V872.4M516.9 870.8V872.4M518.1 870.8V872.4M519.1 870.8V872.4M520 870.8V872.4M526.1 870.8V872.4M529.1 870.8V872.4M531.3 870.8V872.4M533 870.8V872.4M534.4 870.8V872.4M535.6 870.8V872.4M536.6 870.8V872.4M537.5 870.8V872.4" stroke="#666" stroke-width="0.7" fill="none"/>
<text x="485.8" y="881.7" font-family="'Liberation Serif', serif" font-size="9" text-anchor="middle" fill="#222">10<tspan font-size="5.9" dy="-3.6">2</tspan></text>
<text x="520.8" y="881.7" font-family="'Liberation Serif', serif" font-size="9" text-anchor="middle" fill="#222">10<tspan font-size="5.9" dy="-3.6">4</tspan></text>
<rect x="562.8" y="794.6" width="77" height="76.2" fill="#fff" stroke="#9a9a9a" stroke-width="1"/>
<clipPath id="cp562_794"><rect x="562.8" y="794.6" width="77" height="76.2"/></clipPath>
<g clip-path="url(#cp562_794)">
<path d="M578.9,870.8 L578.9,870 589,868.2 592.9,863.7 595.7,858.1 599.1,850.2 601.9,843.5 603.6,836.7 605.3,831.1 607,830 608.7,832.8 610.9,833.9 612,837.8 613.7,846.8 616,857 618.2,863.7 620.5,868.2 623.3,870 L623.3,870.8Z" fill="#66dcfa" stroke="none"/>
<polyline points="578.9,870 589,868.2 592.9,863.7 595.7,858.1 599.1,850.2 601.9,843.5 603.6,836.7 605.3,831.1 607,830 608.7,832.8 610.9,833.9 612,837.8 613.7,846.8 616,857 618.2,863.7 620.5,868.2 623.3,870" fill="none" stroke="#2ab8f0" stroke-width="0.9" stroke-opacity="0.9"/>
<path d="M598,870.8 L598,870 603.6,867.1 607,863.7 609.2,857 610.9,848 612.6,835.6 613.7,824.4 615.4,818.7 616.7,813.1 618.2,817.6 619.9,824.4 621,831.1 622.7,842.3 624.4,853.6 626.1,862.6 627.8,868.2 630,870 L630,870.8Z" fill="rgba(246,100,100,0.58)" stroke="none"/>
<polyline points="598,870 603.6,867.1 607,863.7 609.2,857 610.9,848 612.6,835.6 613.7,824.4 615.4,818.7 616.7,813.1 618.2,817.6 619.9,824.4 621,831.1 622.7,842.3 624.4,853.6 626.1,862.6 627.8,868.2 630,870" fill="none" stroke="#ee5555" stroke-width="0.9" stroke-opacity="0.9"/>
<path d="M563.2,870.8 L563.2,870 563.2,862 563.7,869.9 568.7,867.1 573.2,864.3 576.1,850.2 578.3,836.7 580,822.1 581.7,812 583.4,805.8 584.5,813.1 585.6,813.7 586.7,823.2 588.4,839 590.1,854.7 591.8,862.6 594,867.6 598,870 L598,870.8Z" fill="rgba(135,245,45,0.5)" stroke="none"/>
<polyline points="563.2,870 563.2,862 563.7,869.9 568.7,867.1 573.2,864.3 576.1,850.2 578.3,836.7 580,822.1 581.7,812 583.4,805.8 584.5,813.1 585.6,813.7 586.7,823.2 588.4,839 590.1,854.7 591.8,862.6 594,867.6 598,870" fill="none" stroke="#8ae43a" stroke-width="0.9" stroke-opacity="0.9"/>
</g>
<line x1="562.8" y1="794.6" x2="562.8" y2="870.8" stroke="#555" stroke-width="1" stroke-linecap="butt"/>
<line x1="562.8" y1="870.8" x2="639.8" y2="870.8" stroke="#555" stroke-width="1" stroke-linecap="butt"/>
<text x="559.2" y="812.1" font-family="'Liberation Serif', serif" font-size="9.3" font-weight="normal" text-anchor="end" fill="#222">150</text>
<text x="559.2" y="853.6" font-family="'Liberation Serif', serif" font-size="9.3" font-weight="normal" text-anchor="end" fill="#222">50</text>
<path d="M559.6 808.9H562.8M559.6 850.4H562.8M565.4 870.8V873.8M582.5 870.8V873.8M599.6 870.8V873.8M616.7 870.8V873.8M633.8 870.8V873.8" stroke="#444" stroke-width="1" fill="none"/>
<path d="M561.2 870.8H562.8M561.2 866.6H562.8M561.2 862.5H562.8M561.2 858.4H562.8M561.2 854.2H562.8M561.2 850.1H562.8M561.2 845.9H562.8M561.2 841.8H562.8M561.2 837.6H562.8M561.2 833.5H562.8M561.2 829.3H562.8M561.2 825.2H562.8M561.2 821H562.8M561.2 816.9H562.8M561.2 812.7H562.8M561.2 808.6H562.8M561.2 804.4H562.8M561.2 800.3H562.8M561.2 796.1H562.8M563.7 870.8V872.4M564.6 870.8V872.4M570.5 870.8V872.4M573.6 870.8V872.4M575.7 870.8V872.4M577.4 870.8V872.4M578.7 870.8V872.4M579.9 870.8V872.4M580.8 870.8V872.4M581.7 870.8V872.4M587.6 870.8V872.4M590.7 870.8V872.4M592.8 870.8V872.4M594.5 870.8V872.4M595.8 870.8V872.4M597 870.8V872.4M597.9 870.8V872.4M598.8 870.8V872.4M604.7 870.8V872.4M607.8 870.8V872.4M609.9 870.8V872.4M611.6 870.8V872.4M612.9 870.8V872.4M614.1 870.8V872.4M615 870.8V872.4M615.9 870.8V872.4M621.8 870.8V872.4M624.9 870.8V872.4M627 870.8V872.4M628.7 870.8V872.4M630 870.8V872.4M631.2 870.8V872.4M632.1 870.8V872.4M633 870.8V872.4M638.9 870.8V872.4" stroke="#666" stroke-width="0.7" fill="none"/>
<text x="582.5" y="881.7" font-family="'Liberation Serif', serif" font-size="9" text-anchor="middle" fill="#222">10<tspan font-size="5.9" dy="-3.6">2</tspan></text>
<text x="616.7" y="881.7" font-family="'Liberation Serif', serif" font-size="9" text-anchor="middle" fill="#222">10<tspan font-size="5.9" dy="-3.6">4</tspan></text>
<line x1="46.5" y1="797" x2="46.5" y2="892.2" stroke="#000" stroke-width="2" stroke-linecap="butt"/>
<path d="M41.5,803.6 L46.5,796.2 L51.5,803.6" fill="none" stroke="#000" stroke-width="2"/>
<line x1="45.5" y1="892.3" x2="645.5" y2="892.3" stroke="#000" stroke-width="1.9" stroke-linecap="butt"/>
<path d="M638.5,888.3 L646.6,892.3 L638.5,896.3" fill="none" stroke="#000" stroke-width="1.8"/>
<text x="27.3" y="844.4" font-family="'Liberation Serif', serif" font-size="12" font-weight="bold" text-anchor="middle" fill="#000" transform="rotate(-90 27.3 844.4)">Count</text>
<text x="326" y="916.3" font-family="'Liberation Serif', serif" font-size="12.4" font-weight="bold" text-anchor="middle" fill="#000">MFI</text></svg>
</body></html>
